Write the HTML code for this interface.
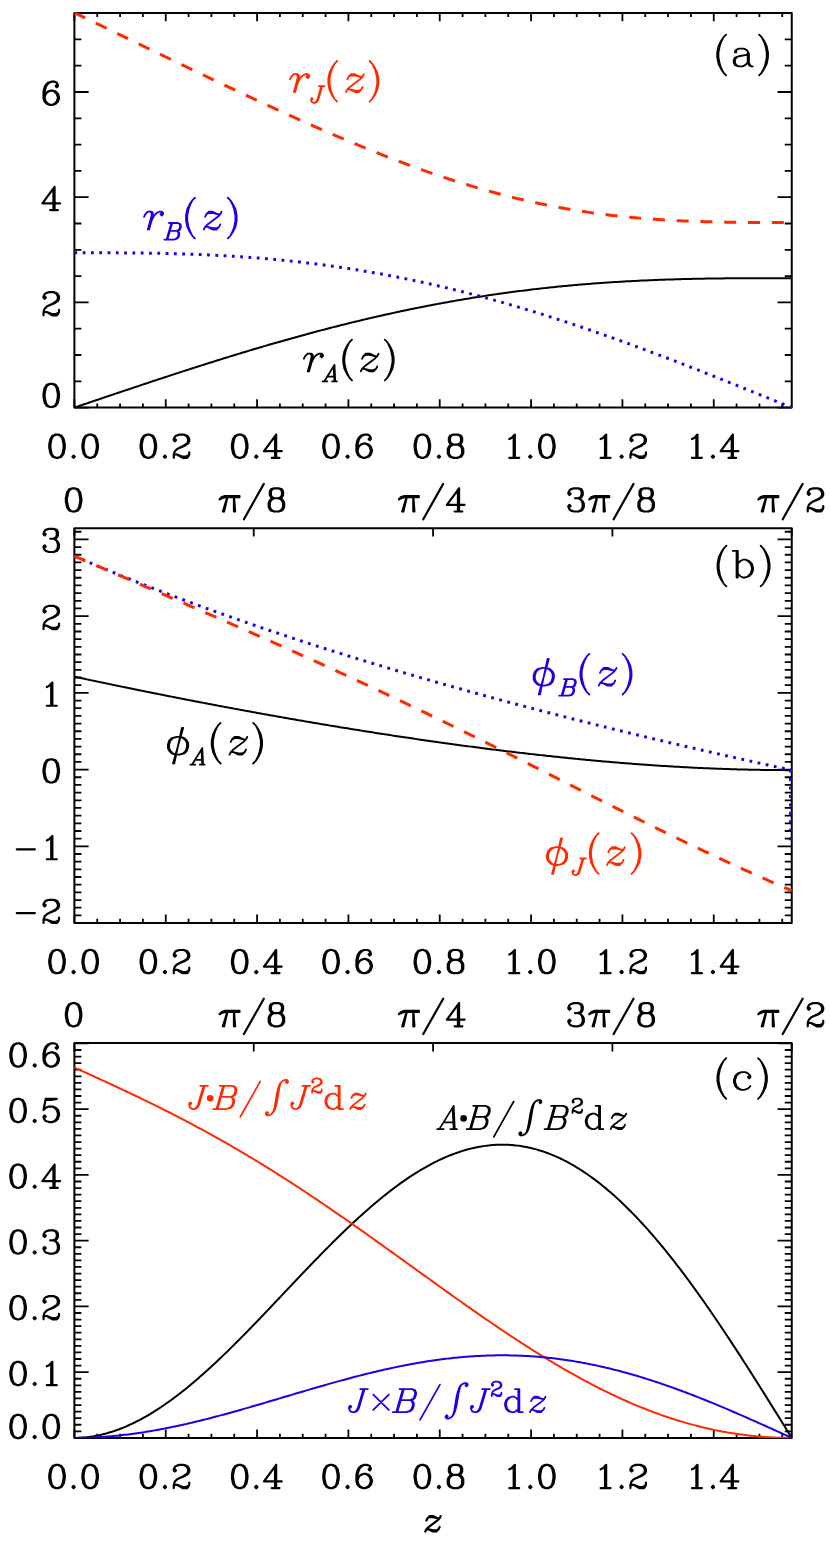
<!DOCTYPE html>
<html><head><meta charset="utf-8"><title>figure</title>
<style>html,body{margin:0;padding:0;background:#fff;font-family:"Liberation Sans",sans-serif}svg{display:block}</style></head>
<body><svg width="830" height="1545" viewBox="0 0 830 1545" fill="none" stroke-linecap="round" stroke-linejoin="round">
<rect x="0" y="0" width="830" height="1545" fill="#fff" stroke="none"/>
<defs><clipPath id="ca"><rect x="74.1" y="12.6" width="717.95" height="395.3"/></clipPath><clipPath id="cb"><rect x="74.1" y="527.9" width="717.95" height="395.4"/></clipPath><clipPath id="cc"><rect x="74.1" y="1042.7" width="717.95" height="395.5"/></clipPath></defs><path d="M74.4 407.6V399.2M74.4 12.9V21.3M97.23 407.6V403.4M97.23 12.9V17.1M120.07 407.6V403.4M120.07 12.9V17.1M142.9 407.6V403.4M142.9 12.9V17.1M165.74 407.6V399.2M165.74 12.9V21.3M188.57 407.6V403.4M188.57 12.9V17.1M211.4 407.6V403.4M211.4 12.9V17.1M234.24 407.6V403.4M234.24 12.9V17.1M257.07 407.6V399.2M257.07 12.9V21.3M279.91 407.6V403.4M279.91 12.9V17.1M302.74 407.6V403.4M302.74 12.9V17.1M325.57 407.6V403.4M325.57 12.9V17.1M348.41 407.6V399.2M348.41 12.9V21.3M371.24 407.6V403.4M371.24 12.9V17.1M394.08 407.6V403.4M394.08 12.9V17.1M416.91 407.6V403.4M416.91 12.9V17.1M439.74 407.6V399.2M439.74 12.9V21.3M462.58 407.6V403.4M462.58 12.9V17.1M485.41 407.6V403.4M485.41 12.9V17.1M508.25 407.6V403.4M508.25 12.9V17.1M531.08 407.6V399.2M531.08 12.9V21.3M553.91 407.6V403.4M553.91 12.9V17.1M576.75 407.6V403.4M576.75 12.9V17.1M599.58 407.6V403.4M599.58 12.9V17.1M622.42 407.6V399.2M622.42 12.9V21.3M645.25 407.6V403.4M645.25 12.9V17.1M668.08 407.6V403.4M668.08 12.9V17.1M690.92 407.6V403.4M690.92 12.9V17.1M713.75 407.6V399.2M713.75 12.9V21.3M736.58 407.6V403.4M736.58 12.9V17.1M759.42 407.6V403.4M759.42 12.9V17.1M782.25 407.6V403.4M782.25 12.9V17.1M74.4 407.6H88.6M791.75 407.6H777.55M74.4 381.3H81.4M791.75 381.3H784.75M74.4 355H81.4M791.75 355H784.75M74.4 328.7H81.4M791.75 328.7H784.75M74.4 302.4H88.6M791.75 302.4H777.55M74.4 276.1H81.4M791.75 276.1H784.75M74.4 249.8H81.4M791.75 249.8H784.75M74.4 223.5H81.4M791.75 223.5H784.75M74.4 197.2H88.6M791.75 197.2H777.55M74.4 170.9H81.4M791.75 170.9H784.75M74.4 144.6H81.4M791.75 144.6H784.75M74.4 118.3H81.4M791.75 118.3H784.75M74.4 92H88.6M791.75 92H777.55M74.4 65.7H81.4M791.75 65.7H784.75M74.4 39.4H81.4M791.75 39.4H784.75M74.4 13.1H81.4M791.75 13.1H784.75" stroke="#000" stroke-width="1.8" stroke-linecap="butt"/>
<rect x="74.4" y="12.9" width="717.35" height="394.7" stroke="#000" stroke-width="2"/>
<path d="M55.92 434.6L52.61 435.7L50.4 439.01L49.29 444.54L49.29 447.86L50.4 453.38L52.61 456.69L55.92 457.8L58.13 457.8L61.45 456.69L63.66 453.38L64.76 447.86L64.76 444.54L63.66 439.01L61.45 435.7L58.13 434.6L55.92 434.6M55.92 434.6L53.71 435.7L52.61 436.81L51.5 439.01L50.4 444.54L50.4 447.86L51.5 453.38L52.61 455.59L53.71 456.69L55.92 457.8M58.13 457.8L60.34 456.69L61.45 455.59L62.55 453.38L63.66 447.86L63.66 444.54L62.55 439.01L61.45 436.81L60.34 435.7L58.13 434.6M73.6 455.59L72.5 456.69L73.6 457.8L74.71 456.69L73.6 455.59M89.07 434.6L85.76 435.7L83.55 439.01L82.44 444.54L82.44 447.86L83.55 453.38L85.76 456.69L89.07 457.8L91.28 457.8L94.6 456.69L96.81 453.38L97.91 447.86L97.91 444.54L96.81 439.01L94.6 435.7L91.28 434.6L89.07 434.6M89.07 434.6L86.86 435.7L85.76 436.81L84.65 439.01L83.55 444.54L83.55 447.86L84.65 453.38L85.76 455.59L86.86 456.69L89.07 457.8M91.28 457.8L93.49 456.69L94.6 455.59L95.7 453.38L96.81 447.86L96.81 444.54L95.7 439.01L94.6 436.81L93.49 435.7L91.28 434.6" stroke="#000" stroke-width="2.2"/>
<path d="M147.26 434.6L143.94 435.7L141.73 439.01L140.63 444.54L140.63 447.86L141.73 453.38L143.94 456.69L147.26 457.8L149.47 457.8L152.78 456.69L154.99 453.38L156.1 447.86L156.1 444.54L154.99 439.01L152.78 435.7L149.47 434.6L147.26 434.6M147.26 434.6L145.05 435.7L143.94 436.81L142.84 439.01L141.73 444.54L141.73 447.86L142.84 453.38L143.94 455.59L145.05 456.69L147.26 457.8M149.47 457.8L151.68 456.69L152.78 455.59L153.89 453.38L154.99 447.86L154.99 444.54L153.89 439.01L152.78 436.81L151.68 435.7L149.47 434.6M164.94 455.59L163.83 456.69L164.94 457.8L166.04 456.69L164.94 455.59M174.88 439.01L175.99 440.12L174.88 441.23L173.78 440.12L173.78 439.01L174.88 436.81L175.99 435.7L179.3 434.6L183.72 434.6L187.04 435.7L188.14 436.81L189.25 439.01L189.25 441.23L188.14 443.44L184.83 445.65L179.3 447.86L177.09 448.96L174.88 451.17L173.78 454.49L173.78 457.8M183.72 434.6L185.93 435.7L187.04 436.81L188.14 439.01L188.14 441.23L187.04 443.44L183.72 445.65L179.3 447.86M173.78 455.59L174.88 454.49L177.09 454.49L182.62 456.69L185.93 456.69L188.14 455.59L189.25 454.49M177.09 454.49L182.62 457.8L187.04 457.8L188.14 456.69L189.25 454.49L189.25 452.28" stroke="#000" stroke-width="2.2"/>
<path d="M238.59 434.6L235.28 435.7L233.07 439.01L231.96 444.54L231.96 447.86L233.07 453.38L235.28 456.69L238.59 457.8L240.8 457.8L244.12 456.69L246.33 453.38L247.43 447.86L247.43 444.54L246.33 439.01L244.12 435.7L240.8 434.6L238.59 434.6M238.59 434.6L236.38 435.7L235.28 436.81L234.17 439.01L233.07 444.54L233.07 447.86L234.17 453.38L235.28 455.59L236.38 456.69L238.59 457.8M240.8 457.8L243.01 456.69L244.12 455.59L245.22 453.38L246.33 447.86L246.33 444.54L245.22 439.01L244.12 436.81L243.01 435.7L240.8 434.6M256.27 455.59L255.17 456.69L256.27 457.8L257.38 456.69L256.27 455.59M275.06 436.81L275.06 457.8M276.16 434.6L276.16 457.8M276.16 434.6L264.01 451.17L281.69 451.17M271.74 457.8L279.48 457.8" stroke="#000" stroke-width="2.2"/>
<path d="M329.93 434.6L326.61 435.7L324.4 439.01L323.3 444.54L323.3 447.86L324.4 453.38L326.61 456.69L329.93 457.8L332.14 457.8L335.45 456.69L337.66 453.38L338.77 447.86L338.77 444.54L337.66 439.01L335.45 435.7L332.14 434.6L329.93 434.6M329.93 434.6L327.72 435.7L326.61 436.81L325.51 439.01L324.4 444.54L324.4 447.86L325.51 453.38L326.61 455.59L327.72 456.69L329.93 457.8M332.14 457.8L334.35 456.69L335.45 455.59L336.56 453.38L337.66 447.86L337.66 444.54L336.56 439.01L335.45 436.81L334.35 435.7L332.14 434.6M347.61 455.59L346.5 456.69L347.61 457.8L348.71 456.69L347.61 455.59M369.71 437.91L368.6 439.01L369.71 440.12L370.81 439.01L370.81 437.91L369.71 435.7L367.5 434.6L364.18 434.6L360.87 435.7L358.66 437.91L357.55 440.12L356.45 444.54L356.45 451.17L357.55 454.49L359.76 456.69L363.08 457.8L365.29 457.8L368.6 456.69L370.81 454.49L371.92 451.17L371.92 450.06L370.81 446.75L368.6 444.54L365.29 443.44L364.18 443.44L360.87 444.54L358.66 446.75L357.55 450.06M364.18 434.6L361.97 435.7L359.76 437.91L358.66 440.12L357.55 444.54L357.55 451.17L358.66 454.49L360.87 456.69L363.08 457.8M365.29 457.8L367.5 456.69L369.71 454.49L370.81 451.17L370.81 450.06L369.71 446.75L367.5 444.54L365.29 443.44" stroke="#000" stroke-width="2.2"/>
<path d="M421.26 434.6L417.95 435.7L415.74 439.01L414.63 444.54L414.63 447.86L415.74 453.38L417.95 456.69L421.26 457.8L423.47 457.8L426.79 456.69L429 453.38L430.1 447.86L430.1 444.54L429 439.01L426.79 435.7L423.47 434.6L421.26 434.6M421.26 434.6L419.05 435.7L417.95 436.81L416.84 439.01L415.74 444.54L415.74 447.86L416.84 453.38L417.95 455.59L419.05 456.69L421.26 457.8M423.47 457.8L425.68 456.69L426.79 455.59L427.89 453.38L429 447.86L429 444.54L427.89 439.01L426.79 436.81L425.68 435.7L423.47 434.6M438.94 455.59L437.84 456.69L438.94 457.8L440.05 456.69L438.94 455.59M453.31 434.6L449.99 435.7L448.89 437.91L448.89 441.23L449.99 443.44L453.31 444.54L457.73 444.54L461.04 443.44L462.15 441.23L462.15 437.91L461.04 435.7L457.73 434.6L453.31 434.6M453.31 434.6L451.1 435.7L449.99 437.91L449.99 441.23L451.1 443.44L453.31 444.54M457.73 444.54L459.94 443.44L461.04 441.23L461.04 437.91L459.94 435.7L457.73 434.6M453.31 444.54L449.99 445.65L448.89 446.75L447.78 448.96L447.78 453.38L448.89 455.59L449.99 456.69L453.31 457.8L457.73 457.8L461.04 456.69L462.15 455.59L463.25 453.38L463.25 448.96L462.15 446.75L461.04 445.65L457.73 444.54M453.31 444.54L451.1 445.65L449.99 446.75L448.89 448.96L448.89 453.38L449.99 455.59L451.1 456.69L453.31 457.8M457.73 457.8L459.94 456.69L461.04 455.59L462.15 453.38L462.15 448.96L461.04 446.75L459.94 445.65L457.73 444.54" stroke="#000" stroke-width="2.2"/>
<path d="M509.28 439.01L511.49 437.91L514.81 434.6L514.81 457.8M513.7 435.7L513.7 457.8M509.28 457.8L519.23 457.8M530.28 455.59L529.17 456.69L530.28 457.8L531.38 456.69L530.28 455.59M545.75 434.6L542.43 435.7L540.22 439.01L539.12 444.54L539.12 447.86L540.22 453.38L542.43 456.69L545.75 457.8L547.96 457.8L551.27 456.69L553.48 453.38L554.59 447.86L554.59 444.54L553.48 439.01L551.27 435.7L547.96 434.6L545.75 434.6M545.75 434.6L543.54 435.7L542.43 436.81L541.33 439.01L540.22 444.54L540.22 447.86L541.33 453.38L542.43 455.59L543.54 456.69L545.75 457.8M547.96 457.8L550.17 456.69L551.27 455.59L552.38 453.38L553.48 447.86L553.48 444.54L552.38 439.01L551.27 436.81L550.17 435.7L547.96 434.6" stroke="#000" stroke-width="2.2"/>
<path d="M600.62 439.01L602.83 437.91L606.15 434.6L606.15 457.8M605.04 435.7L605.04 457.8M600.62 457.8L610.57 457.8M621.62 455.59L620.51 456.69L621.62 457.8L622.72 456.69L621.62 455.59M631.56 439.01L632.67 440.12L631.56 441.23L630.46 440.12L630.46 439.01L631.56 436.81L632.67 435.7L635.98 434.6L640.4 434.6L643.72 435.7L644.82 436.81L645.93 439.01L645.93 441.23L644.82 443.44L641.51 445.65L635.98 447.86L633.77 448.96L631.56 451.17L630.46 454.49L630.46 457.8M640.4 434.6L642.61 435.7L643.72 436.81L644.82 439.01L644.82 441.23L643.72 443.44L640.4 445.65L635.98 447.86M630.46 455.59L631.56 454.49L633.77 454.49L639.3 456.69L642.61 456.69L644.82 455.59L645.93 454.49M633.77 454.49L639.3 457.8L643.72 457.8L644.82 456.69L645.93 454.49L645.93 452.28" stroke="#000" stroke-width="2.2"/>
<path d="M691.96 439.01L694.17 437.91L697.48 434.6L697.48 457.8M696.38 435.7L696.38 457.8M691.96 457.8L701.9 457.8M712.95 455.59L711.85 456.69L712.95 457.8L714.06 456.69L712.95 455.59M731.74 436.81L731.74 457.8M732.84 434.6L732.84 457.8M732.84 434.6L720.69 451.17L738.37 451.17M728.42 457.8L736.16 457.8" stroke="#000" stroke-width="2.2"/>
<path d="M56.77 85.01L55.67 86.12L56.77 87.22L57.88 86.12L57.88 85.01L56.77 82.8L54.56 81.7L51.25 81.7L47.94 82.8L45.73 85.01L44.62 87.22L43.52 91.64L43.52 98.27L44.62 101.59L46.83 103.8L50.15 104.9L52.35 104.9L55.67 103.8L57.88 101.59L58.98 98.27L58.98 97.17L57.88 93.85L55.67 91.64L52.35 90.54L51.25 90.54L47.94 91.64L45.73 93.85L44.62 97.17M51.25 81.7L49.04 82.8L46.83 85.01L45.73 87.22L44.62 91.64L44.62 98.27L45.73 101.59L47.94 103.8L50.15 104.9M52.35 104.9L54.56 103.8L56.77 101.59L57.88 98.27L57.88 97.17L56.77 93.85L54.56 91.64L52.35 90.54" stroke="#000" stroke-width="2.2"/>
<path d="M53.46 189.11L53.46 210.1M54.56 186.9L54.56 210.1M54.56 186.9L42.41 203.47L60.09 203.47M50.15 210.1L57.88 210.1" stroke="#000" stroke-width="2.2"/>
<path d="M44.62 296.51L45.73 297.62L44.62 298.73L43.52 297.62L43.52 296.51L44.62 294.31L45.73 293.2L49.04 292.1L53.46 292.1L56.77 293.2L57.88 294.31L58.98 296.51L58.98 298.73L57.88 300.94L54.56 303.15L49.04 305.36L46.83 306.46L44.62 308.67L43.52 311.99L43.52 315.3M53.46 292.1L55.67 293.2L56.77 294.31L57.88 296.51L57.88 298.73L56.77 300.94L53.46 303.15L49.04 305.36M43.52 313.09L44.62 311.99L46.83 311.99L52.35 314.19L55.67 314.19L57.88 313.09L58.98 311.99M46.83 311.99L52.35 315.3L56.77 315.3L57.88 314.19L58.98 311.99L58.98 309.78" stroke="#000" stroke-width="2.2"/>
<path d="M50.15 383.8L46.83 384.9L44.62 388.21L43.52 393.74L43.52 397.06L44.62 402.58L46.83 405.89L50.15 407L52.35 407L55.67 405.89L57.88 402.58L58.98 397.06L58.98 393.74L57.88 388.21L55.67 384.9L52.35 383.8L50.15 383.8M50.15 383.8L47.94 384.9L46.83 386L45.73 388.21L44.62 393.74L44.62 397.06L45.73 402.58L46.83 404.79L47.94 405.89L50.15 407M52.35 407L54.56 405.89L55.67 404.79L56.77 402.58L57.88 397.06L57.88 393.74L56.77 388.21L55.67 386L54.56 384.9L52.35 383.8" stroke="#000" stroke-width="2.2"/>
<path clip-path="url(#ca)" d="M74.4 407.6L76.19 406.99L77.99 406.38L79.78 405.78L81.57 405.17L83.37 404.56L85.16 403.95L86.95 403.35L88.75 402.74L90.54 402.13L92.33 401.52L94.13 400.92L95.92 400.31L97.71 399.7L99.51 399.1L101.3 398.49L103.09 397.88L104.89 397.28L106.68 396.67L108.47 396.07L110.27 395.46L112.06 394.86L113.85 394.25L115.65 393.65L117.44 393.04L119.23 392.44L121.03 391.84L122.82 391.24L124.61 390.63L126.41 390.03L128.2 389.43L129.99 388.83L131.79 388.23L133.58 387.63L135.37 387.03L137.17 386.43L138.96 385.83L140.75 385.23L142.55 384.64L144.34 384.04L146.13 383.44L147.93 382.85L149.72 382.25L151.52 381.66L153.31 381.07L155.1 380.47L156.9 379.88L158.69 379.29L160.48 378.7L162.28 378.11L164.07 377.52L165.86 376.93L167.66 376.34L169.45 375.76L171.24 375.17L173.04 374.58L174.83 374L176.62 373.42L178.42 372.83L180.21 372.25L182 371.67L183.8 371.09L185.59 370.51L187.38 369.93L189.18 369.35L190.97 368.78L192.76 368.2L194.56 367.63L196.35 367.05L198.14 366.48L199.94 365.91L201.73 365.34L203.52 364.77L205.32 364.2L207.11 363.63L208.9 363.07L210.7 362.5L212.49 361.94L214.28 361.37L216.08 360.81L217.87 360.25L219.66 359.69L221.46 359.13L223.25 358.58L225.04 358.02L226.84 357.47L228.63 356.91L230.42 356.36L232.22 355.81L234.01 355.26L235.8 354.71L237.6 354.16L239.39 353.62L241.18 353.07L242.98 352.53L244.77 351.99L246.56 351.45L248.36 350.91L250.15 350.37L251.94 349.83L253.74 349.3L255.53 348.77L257.32 348.23L259.12 347.7L260.91 347.18L262.7 346.65L264.5 346.12L266.29 345.6L268.08 345.07L269.88 344.55L271.67 344.03L273.46 343.51L275.26 343L277.05 342.48L278.84 341.97L280.64 341.46L282.43 340.95L284.22 340.44L286.02 339.93L287.81 339.42L289.61 338.92L291.4 338.42L293.19 337.92L294.99 337.42L296.78 336.92L298.57 336.43L300.37 335.93L302.16 335.44L303.95 334.95L305.75 334.46L307.54 333.97L309.33 333.49L311.13 333.01L312.92 332.52L314.71 332.04L316.51 331.57L318.3 331.09L320.09 330.62L321.89 330.14L323.68 329.67L325.47 329.2L327.27 328.74L329.06 328.27L330.85 327.81L332.65 327.35L334.44 326.89L336.23 326.43L338.03 325.98L339.82 325.52L341.61 325.07L343.41 324.62L345.2 324.17L346.99 323.73L348.79 323.29L350.58 322.84L352.37 322.4L354.17 321.97L355.96 321.53L357.75 321.1L359.55 320.67L361.34 320.24L363.13 319.81L364.93 319.38L366.72 318.96L368.51 318.54L370.31 318.12L372.1 317.7L373.89 317.29L375.69 316.87L377.48 316.46L379.27 316.06L381.07 315.65L382.86 315.24L384.65 314.84L386.45 314.44L388.24 314.04L390.03 313.65L391.83 313.25L393.62 312.86L395.41 312.47L397.21 312.09L399 311.7L400.79 311.32L402.59 310.94L404.38 310.56L406.17 310.18L407.97 309.81L409.76 309.44L411.55 309.07L413.35 308.7L415.14 308.34L416.93 307.97L418.73 307.61L420.52 307.25L422.31 306.9L424.11 306.54L425.9 306.19L427.69 305.84L429.49 305.5L431.28 305.15L433.08 304.81L434.87 304.47L436.66 304.13L438.46 303.8L440.25 303.46L442.04 303.13L443.84 302.8L445.63 302.48L447.42 302.15L449.22 301.83L451.01 301.51L452.8 301.19L454.6 300.88L456.39 300.57L458.18 300.26L459.98 299.95L461.77 299.64L463.56 299.34L465.36 299.04L467.15 298.74L468.94 298.44L470.74 298.15L472.53 297.86L474.32 297.57L476.12 297.28L477.91 297L479.7 296.72L481.5 296.44L483.29 296.16L485.08 295.88L486.88 295.61L488.67 295.34L490.46 295.07L492.26 294.81L494.05 294.54L495.84 294.28L497.64 294.02L499.43 293.77L501.22 293.51L503.02 293.26L504.81 293.01L506.6 292.77L508.4 292.52L510.19 292.28L511.98 292.04L513.78 291.8L515.57 291.57L517.36 291.33L519.16 291.1L520.95 290.88L522.74 290.65L524.54 290.43L526.33 290.2L528.12 289.99L529.92 289.77L531.71 289.55L533.5 289.34L535.3 289.13L537.09 288.93L538.88 288.72L540.68 288.52L542.47 288.32L544.26 288.12L546.06 287.92L547.85 287.73L549.64 287.54L551.44 287.35L553.23 287.16L555.02 286.98L556.82 286.79L558.61 286.61L560.4 286.44L562.2 286.26L563.99 286.09L565.78 285.92L567.58 285.75L569.37 285.58L571.16 285.42L572.96 285.25L574.75 285.09L576.54 284.93L578.34 284.78L580.13 284.62L581.93 284.47L583.72 284.32L585.51 284.18L587.31 284.03L589.1 283.89L590.89 283.75L592.69 283.61L594.48 283.47L596.27 283.34L598.07 283.21L599.86 283.07L601.65 282.95L603.45 282.82L605.24 282.7L607.03 282.57L608.83 282.45L610.62 282.34L612.41 282.22L614.21 282.1L616 281.99L617.79 281.88L619.59 281.77L621.38 281.67L623.17 281.56L624.97 281.46L626.76 281.36L628.55 281.26L630.35 281.17L632.14 281.07L633.93 280.98L635.73 280.89L637.52 280.8L639.31 280.71L641.11 280.62L642.9 280.54L644.69 280.46L646.49 280.38L648.28 280.3L650.07 280.22L651.87 280.15L653.66 280.07L655.45 280L657.25 279.93L659.04 279.86L660.83 279.8L662.63 279.73L664.42 279.67L666.21 279.61L668.01 279.55L669.8 279.49L671.59 279.43L673.39 279.38L675.18 279.32L676.97 279.27L678.77 279.22L680.56 279.17L682.35 279.12L684.15 279.08L685.94 279.03L687.73 278.99L689.53 278.94L691.32 278.9L693.11 278.86L694.91 278.83L696.7 278.79L698.49 278.75L700.29 278.72L702.08 278.69L703.87 278.65L705.67 278.62L707.46 278.59L709.25 278.57L711.05 278.54L712.84 278.51L714.63 278.49L716.43 278.46L718.22 278.44L720.02 278.42L721.81 278.4L723.6 278.38L725.4 278.36L727.19 278.34L728.98 278.32L730.78 278.31L732.57 278.29L734.36 278.28L736.16 278.27L737.95 278.25L739.74 278.24L741.54 278.23L743.33 278.22L745.12 278.21L746.92 278.2L748.71 278.19L750.5 278.19L752.3 278.18L754.09 278.17L755.88 278.17L757.68 278.16L759.47 278.16L761.26 278.15L763.06 278.15L764.85 278.14L766.64 278.14L768.44 278.14L770.23 278.14L772.02 278.14L773.82 278.13L775.61 278.13L777.4 278.13L779.2 278.13L780.99 278.13L782.78 278.13L784.58 278.13L786.37 278.13L788.16 278.13L789.96 278.13L791.75 278.13" stroke="#000" stroke-width="2" stroke-linecap="butt"/>
<path clip-path="url(#ca)" d="M74.4 252.79L76.19 252.79L77.99 252.79L79.78 252.79L81.57 252.79L83.37 252.79L85.16 252.79L86.95 252.79L88.75 252.79L90.54 252.8L92.33 252.8L94.13 252.8L95.92 252.8L97.71 252.8L99.51 252.81L101.3 252.81L103.09 252.81L104.89 252.82L106.68 252.82L108.47 252.83L110.27 252.84L112.06 252.84L113.85 252.85L115.65 252.86L117.44 252.87L119.23 252.88L121.03 252.89L122.82 252.9L124.61 252.91L126.41 252.93L128.2 252.94L129.99 252.95L131.79 252.97L133.58 252.99L135.37 253.01L137.17 253.03L138.96 253.05L140.75 253.07L142.55 253.09L144.34 253.11L146.13 253.14L147.93 253.16L149.72 253.19L151.52 253.22L153.31 253.25L155.1 253.28L156.9 253.31L158.69 253.35L160.48 253.38L162.28 253.42L164.07 253.46L165.86 253.5L167.66 253.54L169.45 253.58L171.24 253.63L173.04 253.67L174.83 253.72L176.62 253.77L178.42 253.82L180.21 253.87L182 253.92L183.8 253.98L185.59 254.04L187.38 254.1L189.18 254.16L190.97 254.22L192.76 254.28L194.56 254.35L196.35 254.42L198.14 254.49L199.94 254.56L201.73 254.63L203.52 254.71L205.32 254.79L207.11 254.87L208.9 254.95L210.7 255.03L212.49 255.12L214.28 255.21L216.08 255.3L217.87 255.39L219.66 255.48L221.46 255.58L223.25 255.68L225.04 255.78L226.84 255.88L228.63 255.98L230.42 256.09L232.22 256.2L234.01 256.31L235.8 256.42L237.6 256.54L239.39 256.66L241.18 256.78L242.98 256.9L244.77 257.02L246.56 257.15L248.36 257.28L250.15 257.41L251.94 257.55L253.74 257.68L255.53 257.82L257.32 257.96L259.12 258.11L260.91 258.25L262.7 258.4L264.5 258.55L266.29 258.71L268.08 258.86L269.88 259.02L271.67 259.18L273.46 259.34L275.26 259.51L277.05 259.68L278.84 259.85L280.64 260.02L282.43 260.2L284.22 260.38L286.02 260.56L287.81 260.74L289.61 260.93L291.4 261.12L293.19 261.31L294.99 261.5L296.78 261.7L298.57 261.9L300.37 262.1L302.16 262.31L303.95 262.51L305.75 262.72L307.54 262.94L309.33 263.15L311.13 263.37L312.92 263.59L314.71 263.82L316.51 264.04L318.3 264.27L320.09 264.5L321.89 264.74L323.68 264.97L325.47 265.21L327.27 265.46L329.06 265.7L330.85 265.95L332.65 266.2L334.44 266.45L336.23 266.71L338.03 266.97L339.82 267.23L341.61 267.5L343.41 267.76L345.2 268.03L346.99 268.31L348.79 268.58L350.58 268.86L352.37 269.14L354.17 269.43L355.96 269.71L357.75 270L359.55 270.29L361.34 270.59L363.13 270.89L364.93 271.19L366.72 271.49L368.51 271.8L370.31 272.11L372.1 272.42L373.89 272.73L375.69 273.05L377.48 273.37L379.27 273.7L381.07 274.02L382.86 274.35L384.65 274.68L386.45 275.02L388.24 275.35L390.03 275.69L391.83 276.04L393.62 276.38L395.41 276.73L397.21 277.08L399 277.44L400.79 277.79L402.59 278.15L404.38 278.52L406.17 278.88L407.97 279.25L409.76 279.62L411.55 279.99L413.35 280.37L415.14 280.75L416.93 281.13L418.73 281.52L420.52 281.9L422.31 282.29L424.11 282.69L425.9 283.08L427.69 283.48L429.49 283.88L431.28 284.29L433.08 284.69L434.87 285.1L436.66 285.51L438.46 285.93L440.25 286.35L442.04 286.77L443.84 287.19L445.63 287.62L447.42 288.04L449.22 288.48L451.01 288.91L452.8 289.35L454.6 289.79L456.39 290.23L458.18 290.67L459.98 291.12L461.77 291.57L463.56 292.02L465.36 292.48L467.15 292.93L468.94 293.39L470.74 293.86L472.53 294.32L474.32 294.79L476.12 295.26L477.91 295.73L479.7 296.21L481.5 296.69L483.29 297.17L485.08 297.65L486.88 298.14L488.67 298.63L490.46 299.12L492.26 299.61L494.05 300.11L495.84 300.61L497.64 301.11L499.43 301.61L501.22 302.12L503.02 302.63L504.81 303.14L506.6 303.65L508.4 304.17L510.19 304.69L511.98 305.21L513.78 305.73L515.57 306.26L517.36 306.79L519.16 307.32L520.95 307.85L522.74 308.38L524.54 308.92L526.33 309.46L528.12 310L529.92 310.55L531.71 311.09L533.5 311.64L535.3 312.19L537.09 312.75L538.88 313.3L540.68 313.86L542.47 314.42L544.26 314.99L546.06 315.55L547.85 316.12L549.64 316.69L551.44 317.26L553.23 317.83L555.02 318.41L556.82 318.99L558.61 319.57L560.4 320.15L562.2 320.73L563.99 321.32L565.78 321.91L567.58 322.5L569.37 323.09L571.16 323.68L572.96 324.28L574.75 324.88L576.54 325.48L578.34 326.08L580.13 326.69L581.93 327.29L583.72 327.9L585.51 328.51L587.31 329.12L589.1 329.74L590.89 330.35L592.69 330.97L594.48 331.59L596.27 332.21L598.07 332.84L599.86 333.46L601.65 334.09L603.45 334.72L605.24 335.35L607.03 335.98L608.83 336.62L610.62 337.25L612.41 337.89L614.21 338.53L616 339.17L617.79 339.81L619.59 340.46L621.38 341.11L623.17 341.75L624.97 342.4L626.76 343.05L628.55 343.71L630.35 344.36L632.14 345.02L633.93 345.67L635.73 346.33L637.52 346.99L639.31 347.65L641.11 348.32L642.9 348.98L644.69 349.65L646.49 350.32L648.28 350.98L650.07 351.66L651.87 352.33L653.66 353L655.45 353.67L657.25 354.35L659.04 355.03L660.83 355.71L662.63 356.39L664.42 357.07L666.21 357.75L668.01 358.43L669.8 359.12L671.59 359.8L673.39 360.49L675.18 361.18L676.97 361.87L678.77 362.56L680.56 363.25L682.35 363.94L684.15 364.64L685.94 365.33L687.73 366.03L689.53 366.73L691.32 367.42L693.11 368.12L694.91 368.82L696.7 369.52L698.49 370.23L700.29 370.93L702.08 371.63L703.87 372.34L705.67 373.04L707.46 373.75L709.25 374.46L711.05 375.17L712.84 375.87L714.63 376.58L716.43 377.29L718.22 378.01L720.02 378.72L721.81 379.43L723.6 380.14L725.4 380.86L727.19 381.57L728.98 382.29L730.78 383L732.57 383.72L734.36 384.44L736.16 385.16L737.95 385.87L739.74 386.59L741.54 387.31L743.33 388.03L745.12 388.75L746.92 389.47L748.71 390.2L750.5 390.92L752.3 391.64L754.09 392.36L755.88 393.09L757.68 393.81L759.47 394.53L761.26 395.26L763.06 395.98L764.85 396.71L766.64 397.43L768.44 398.16L770.23 398.88L772.02 399.61L773.82 400.33L775.61 401.06L777.4 401.79L779.2 402.51L780.99 403.24L782.78 403.97L784.58 404.69L786.37 405.42L788.16 406.15L789.96 406.87L791.75 407.6" stroke="#1c00e2" stroke-width="3" stroke-linecap="butt" stroke-dasharray="2.8 5.494"/>
<path clip-path="url(#ca)" d="M74.4 12.74L76.19 13.61L77.99 14.48L79.78 15.35L81.57 16.21L83.37 17.08L85.16 17.95L86.95 18.82L88.75 19.69L90.54 20.56L92.33 21.43L94.13 22.3L95.92 23.17L97.71 24.04L99.51 24.91L101.3 25.77L103.09 26.64L104.89 27.51L106.68 28.38L108.47 29.25L110.27 30.12L112.06 30.99L113.85 31.86L115.65 32.73L117.44 33.59L119.23 34.46L121.03 35.33L122.82 36.2L124.61 37.07L126.41 37.94L128.2 38.81L129.99 39.67L131.79 40.54L133.58 41.41L135.37 42.28L137.17 43.15L138.96 44.01L140.75 44.88L142.55 45.75L144.34 46.62L146.13 47.48L147.93 48.35L149.72 49.22L151.52 50.08L153.31 50.95L155.1 51.82L156.9 52.68L158.69 53.55L160.48 54.41L162.28 55.28L164.07 56.14L165.86 57.01L167.66 57.87L169.45 58.74L171.24 59.6L173.04 60.47L174.83 61.33L176.62 62.19L178.42 63.06L180.21 63.92L182 64.78L183.8 65.64L185.59 66.5L187.38 67.37L189.18 68.23L190.97 69.09L192.76 69.95L194.56 70.81L196.35 71.67L198.14 72.52L199.94 73.38L201.73 74.24L203.52 75.1L205.32 75.95L207.11 76.81L208.9 77.67L210.7 78.52L212.49 79.38L214.28 80.23L216.08 81.08L217.87 81.93L219.66 82.79L221.46 83.64L223.25 84.49L225.04 85.34L226.84 86.19L228.63 87.04L230.42 87.88L232.22 88.73L234.01 89.58L235.8 90.42L237.6 91.27L239.39 92.11L241.18 92.96L242.98 93.8L244.77 94.64L246.56 95.48L248.36 96.32L250.15 97.16L251.94 98L253.74 98.83L255.53 99.67L257.32 100.5L259.12 101.34L260.91 102.17L262.7 103L264.5 103.83L266.29 104.66L268.08 105.49L269.88 106.32L271.67 107.14L273.46 107.97L275.26 108.79L277.05 109.61L278.84 110.43L280.64 111.25L282.43 112.07L284.22 112.89L286.02 113.71L287.81 114.52L289.61 115.33L291.4 116.14L293.19 116.95L294.99 117.76L296.78 118.57L298.57 119.38L300.37 120.18L302.16 120.98L303.95 121.78L305.75 122.58L307.54 123.38L309.33 124.18L311.13 124.97L312.92 125.77L314.71 126.56L316.51 127.35L318.3 128.13L320.09 128.92L321.89 129.7L323.68 130.49L325.47 131.27L327.27 132.05L329.06 132.82L330.85 133.6L332.65 134.37L334.44 135.14L336.23 135.91L338.03 136.68L339.82 137.44L341.61 138.2L343.41 138.96L345.2 139.72L346.99 140.48L348.79 141.23L350.58 141.98L352.37 142.73L354.17 143.48L355.96 144.22L357.75 144.96L359.55 145.7L361.34 146.44L363.13 147.18L364.93 147.91L366.72 148.64L368.51 149.37L370.31 150.09L372.1 150.82L373.89 151.54L375.69 152.25L377.48 152.97L379.27 153.68L381.07 154.39L382.86 155.1L384.65 155.8L386.45 156.5L388.24 157.2L390.03 157.9L391.83 158.59L393.62 159.28L395.41 159.97L397.21 160.65L399 161.33L400.79 162.01L402.59 162.68L404.38 163.36L406.17 164.02L407.97 164.69L409.76 165.35L411.55 166.01L413.35 166.67L415.14 167.32L416.93 167.97L418.73 168.62L420.52 169.26L422.31 169.9L424.11 170.54L425.9 171.17L427.69 171.8L429.49 172.43L431.28 173.05L433.08 173.67L434.87 174.29L436.66 174.9L438.46 175.51L440.25 176.12L442.04 176.72L443.84 177.32L445.63 177.92L447.42 178.51L449.22 179.1L451.01 179.68L452.8 180.26L454.6 180.84L456.39 181.41L458.18 181.98L459.98 182.54L461.77 183.11L463.56 183.66L465.36 184.22L467.15 184.77L468.94 185.31L470.74 185.86L472.53 186.39L474.32 186.93L476.12 187.46L477.91 187.99L479.7 188.51L481.5 189.03L483.29 189.54L485.08 190.05L486.88 190.56L488.67 191.06L490.46 191.56L492.26 192.05L494.05 192.54L495.84 193.03L497.64 193.51L499.43 193.99L501.22 194.46L503.02 194.93L504.81 195.39L506.6 195.85L508.4 196.31L510.19 196.76L511.98 197.21L513.78 197.65L515.57 198.09L517.36 198.53L519.16 198.96L520.95 199.38L522.74 199.8L524.54 200.22L526.33 200.64L528.12 201.04L529.92 201.45L531.71 201.85L533.5 202.25L535.3 202.64L537.09 203.02L538.88 203.41L540.68 203.79L542.47 204.16L544.26 204.53L546.06 204.9L547.85 205.26L549.64 205.61L551.44 205.97L553.23 206.31L555.02 206.66L556.82 207L558.61 207.33L560.4 207.66L562.2 207.99L563.99 208.31L565.78 208.63L567.58 208.95L569.37 209.25L571.16 209.56L572.96 209.86L574.75 210.16L576.54 210.45L578.34 210.74L580.13 211.02L581.93 211.3L583.72 211.58L585.51 211.85L587.31 212.11L589.1 212.38L590.89 212.64L592.69 212.89L594.48 213.14L596.27 213.39L598.07 213.63L599.86 213.87L601.65 214.1L603.45 214.33L605.24 214.56L607.03 214.78L608.83 215L610.62 215.21L612.41 215.43L614.21 215.63L616 215.83L617.79 216.03L619.59 216.23L621.38 216.42L623.17 216.61L624.97 216.79L626.76 216.97L628.55 217.15L630.35 217.32L632.14 217.49L633.93 217.65L635.73 217.82L637.52 217.98L639.31 218.13L641.11 218.28L642.9 218.43L644.69 218.57L646.49 218.72L648.28 218.85L650.07 218.99L651.87 219.12L653.66 219.25L655.45 219.37L657.25 219.49L659.04 219.61L660.83 219.73L662.63 219.84L664.42 219.95L666.21 220.05L668.01 220.16L669.8 220.26L671.59 220.36L673.39 220.45L675.18 220.54L676.97 220.63L678.77 220.72L680.56 220.8L682.35 220.88L684.15 220.96L685.94 221.04L687.73 221.11L689.53 221.18L691.32 221.25L693.11 221.32L694.91 221.38L696.7 221.44L698.49 221.5L700.29 221.56L702.08 221.61L703.87 221.66L705.67 221.71L707.46 221.76L709.25 221.81L711.05 221.85L712.84 221.89L714.63 221.93L716.43 221.97L718.22 222.01L720.02 222.04L721.81 222.08L723.6 222.11L725.4 222.14L727.19 222.17L728.98 222.19L730.78 222.22L732.57 222.24L734.36 222.27L736.16 222.29L737.95 222.31L739.74 222.33L741.54 222.34L743.33 222.36L745.12 222.37L746.92 222.39L748.71 222.4L750.5 222.41L752.3 222.42L754.09 222.43L755.88 222.44L757.68 222.45L759.47 222.46L761.26 222.46L763.06 222.47L764.85 222.47L766.64 222.48L768.44 222.48L770.23 222.48L772.02 222.49L773.82 222.49L775.61 222.49L777.4 222.49L779.2 222.49L780.99 222.49L782.78 222.5L784.58 222.5L786.37 222.5L788.16 222.5L789.96 222.5L791.75 222.5" stroke="#ff2a00" stroke-width="3" stroke-linecap="butt" stroke-dasharray="12 11.79"/>
<path d="M290 79.3L291.27 76.76L293.81 74.22L297.62 74.22L298.89 75.49L298.89 78.03L297.62 83.11L295.08 92M296.35 74.22L297.62 75.49L297.62 78.03L296.35 83.11L293.81 92M297.62 83.11L300.16 78.03L302.7 75.49L305.24 74.22L307.78 74.22L309.05 75.49L309.05 76.76L307.78 78.03L306.51 76.76L307.78 75.49M322.13 86.26L318.19 99.65L317.41 101.22L316.62 102.01L315.04 102.8L313.47 102.8L311.89 102.01L311.11 100.43L311.11 98.86L311.89 98.07L312.68 98.86L311.89 99.65M321.34 86.26L317.41 99.65L316.62 101.22L315.04 102.8M318.98 86.26L324.49 86.26M337.19 61.01L334.65 63.55L332.11 67.36L329.57 72.44L328.3 78.79L328.3 83.87L329.57 90.22L332.11 95.3L334.65 99.11L337.19 101.65M334.65 63.55L332.11 68.63L330.84 72.44L329.57 78.79L329.57 83.87L330.84 90.22L332.11 94.03L334.65 99.11M363.86 74.22L362.59 76.76L360.05 79.3L349.89 86.92L347.35 89.46L346.08 92M347.35 79.3L348.62 76.76L351.16 74.22L354.97 74.22L360.05 76.76M348.62 76.76L351.16 75.49L354.97 75.49L360.05 76.76L362.59 76.76M347.35 89.46L349.89 89.46L354.97 90.73L358.78 90.73L361.32 89.46M349.89 89.46L354.97 92L358.78 92L361.32 89.46L362.59 86.92M369.58 61.01L372.12 63.55L374.66 67.36L377.2 72.44L378.47 78.79L378.47 83.87L377.2 90.22L374.66 95.3L372.12 99.11L369.58 101.65M372.12 63.55L374.66 68.63L375.93 72.44L377.2 78.79L377.2 83.87L375.93 90.22L374.66 94.03L372.12 99.11" stroke="#ff2a00" stroke-width="1.8"/>
<path d="M144 216.8L145.27 214.26L147.81 211.72L151.62 211.72L152.89 212.99L152.89 215.53L151.62 220.61L149.08 229.5M150.35 211.72L151.62 212.99L151.62 215.53L150.35 220.61L147.81 229.5M151.62 220.61L154.16 215.53L156.7 212.99L159.24 211.72L161.78 211.72L163.05 212.99L163.05 214.26L161.78 215.53L160.51 214.26L161.78 212.99M171.41 223L166.68 239.53M172.19 223L167.47 239.53M169.04 223L177.71 223L180.07 223.79L180.86 225.36L180.86 226.93L180.07 229.3L179.28 230.08L176.92 230.87M177.71 223L179.28 223.79L180.07 225.36L180.07 226.93L179.28 229.3L178.49 230.08L176.92 230.87M169.83 230.87L176.92 230.87L178.49 231.66L179.28 233.23L179.28 234.81L178.49 237.17L176.92 238.75L173.77 239.53L164.32 239.53M176.92 230.87L177.71 231.66L178.49 233.23L178.49 234.81L177.71 237.17L176.13 238.75L173.77 239.53M194.9 197.75L192.36 200.29L189.82 204.1L187.28 209.18L186.01 215.53L186.01 220.61L187.28 226.96L189.82 232.04L192.36 235.85L194.9 238.39M192.36 200.29L189.82 205.37L188.55 209.18L187.28 215.53L187.28 220.61L188.55 226.96L189.82 230.77L192.36 235.85M221.57 211.72L220.3 214.26L217.76 216.8L207.6 224.42L205.06 226.96L203.79 229.5M205.06 216.8L206.33 214.26L208.87 211.72L212.68 211.72L217.76 214.26M206.33 214.26L208.87 212.99L212.68 212.99L217.76 214.26L220.3 214.26M205.06 226.96L207.6 226.96L212.68 228.23L216.49 228.23L219.03 226.96M207.6 226.96L212.68 229.5L216.49 229.5L219.03 226.96L220.3 224.42M227.79 197.75L230.33 200.29L232.87 204.1L235.41 209.18L236.68 215.53L236.68 220.61L235.41 226.96L232.87 232.04L230.33 235.85L227.79 238.39M230.33 200.29L232.87 205.37L234.14 209.18L235.41 215.53L235.41 220.61L234.14 226.96L232.87 230.77L230.33 235.85" stroke="#1c00e2" stroke-width="1.8"/>
<path d="M303.9 358.7L305.17 356.16L307.71 353.62L311.52 353.62L312.79 354.89L312.79 357.43L311.52 362.51L308.98 371.4M310.25 353.62L311.52 354.89L311.52 357.43L310.25 362.51L307.71 371.4M311.52 362.51L314.06 357.43L316.6 354.89L319.14 353.62L321.68 353.62L322.95 354.89L322.95 356.16L321.68 357.43L320.41 356.16L321.68 354.89M334.46 364.9L324.22 381.43M334.46 364.9L335.24 381.43M333.67 366.47L334.46 381.43M327.37 376.71L334.46 376.71M322.65 381.43L327.37 381.43M332.09 381.43L336.82 381.43M352.03 339.65L349.49 342.19L346.95 346L344.41 351.08L343.14 357.43L343.14 362.51L344.41 368.86L346.95 373.94L349.49 377.75L352.03 380.29M349.49 342.19L346.95 347.27L345.68 351.08L344.41 357.43L344.41 362.51L345.68 368.86L346.95 372.67L349.49 377.75M378.58 353.62L377.31 356.16L374.77 358.7L364.61 366.32L362.07 368.86L360.8 371.4M362.07 358.7L363.34 356.16L365.88 353.62L369.69 353.62L374.77 356.16M363.34 356.16L365.88 354.89L369.69 354.89L374.77 356.16L377.31 356.16M362.07 368.86L364.61 368.86L369.69 370.13L373.5 370.13L376.04 368.86M364.61 368.86L369.69 371.4L373.5 371.4L376.04 368.86L377.31 366.32M384.8 339.65L387.34 342.19L389.88 346L392.42 351.08L393.69 357.43L393.69 362.51L392.42 368.86L389.88 373.94L387.34 377.75L384.8 380.29M387.34 342.19L389.88 347.27L391.15 351.08L392.42 357.43L392.42 362.51L391.15 368.86L389.88 372.67L387.34 377.75" stroke="#000" stroke-width="1.8"/>
<path d="M726.09 34.65L723.55 37.19L721.01 41L718.47 46.08L717.2 52.43L717.2 57.51L718.47 63.86L721.01 68.94L723.55 72.75L726.09 75.29M723.55 37.19L721.01 42.27L719.74 46.08L718.47 52.43L718.47 57.51L719.74 63.86L721.01 67.67L723.55 72.75M736.25 51.16L736.25 52.43L734.98 52.43L734.98 51.16L736.25 49.89L738.79 48.62L743.87 48.62L746.41 49.89L747.68 51.16L748.95 53.7L748.95 62.59L750.22 65.13L751.49 66.4M747.68 51.16L747.68 62.59L748.95 65.13L751.49 66.4L752.76 66.4M747.68 53.7L746.41 54.97L738.79 56.24L734.98 57.51L733.71 60.05L733.71 62.59L734.98 65.13L738.79 66.4L742.6 66.4L745.14 65.13L747.68 62.59M738.79 56.24L736.25 57.51L734.98 60.05L734.98 62.59L736.25 65.13L738.79 66.4M759.11 34.65L761.65 37.19L764.19 41L766.73 46.08L768 52.43L768 57.51L766.73 63.86L764.19 68.94L761.65 72.75L759.11 75.29M761.65 37.19L764.19 42.27L765.46 46.08L766.73 52.43L766.73 57.51L765.46 63.86L764.19 67.67L761.65 72.75" stroke="#000" stroke-width="1.8"/>
<path d="M74.4 923V914.6M97.23 923V918.8M120.07 923V918.8M142.9 923V918.8M165.74 923V914.6M188.57 923V918.8M211.4 923V918.8M234.24 923V918.8M257.07 923V914.6M279.91 923V918.8M302.74 923V918.8M325.57 923V918.8M348.41 923V914.6M371.24 923V918.8M394.08 923V918.8M416.91 923V918.8M439.74 923V914.6M462.58 923V918.8M485.41 923V918.8M508.25 923V918.8M531.08 923V914.6M553.91 923V918.8M576.75 923V918.8M599.58 923V918.8M622.42 923V914.6M645.25 923V918.8M668.08 923V918.8M690.92 923V918.8M713.75 923V914.6M736.58 923V918.8M759.42 923V918.8M782.25 923V918.8M74.4 528.2V536.6M253.74 528.2V536.6M433.08 528.2V536.6M612.41 528.2V536.6M791.75 528.2V536.6M74.4 915.39H81.4M791.75 915.39H784.75M74.4 907.71H81.4M791.75 907.71H784.75M74.4 900.04H81.4M791.75 900.04H784.75M74.4 892.37H81.4M791.75 892.37H784.75M74.4 884.7H81.4M791.75 884.7H784.75M74.4 877.02H81.4M791.75 877.02H784.75M74.4 869.35H81.4M791.75 869.35H784.75M74.4 861.68H81.4M791.75 861.68H784.75M74.4 854H81.4M791.75 854H784.75M74.4 846.33H88.6M791.75 846.33H777.55M74.4 838.66H81.4M791.75 838.66H784.75M74.4 830.98H81.4M791.75 830.98H784.75M74.4 823.31H81.4M791.75 823.31H784.75M74.4 815.64H81.4M791.75 815.64H784.75M74.4 807.97H81.4M791.75 807.97H784.75M74.4 800.29H81.4M791.75 800.29H784.75M74.4 792.62H81.4M791.75 792.62H784.75M74.4 784.95H81.4M791.75 784.95H784.75M74.4 777.27H81.4M791.75 777.27H784.75M74.4 769.6H88.6M791.75 769.6H777.55M74.4 761.93H81.4M791.75 761.93H784.75M74.4 754.25H81.4M791.75 754.25H784.75M74.4 746.58H81.4M791.75 746.58H784.75M74.4 738.91H81.4M791.75 738.91H784.75M74.4 731.24H81.4M791.75 731.24H784.75M74.4 723.56H81.4M791.75 723.56H784.75M74.4 715.89H81.4M791.75 715.89H784.75M74.4 708.22H81.4M791.75 708.22H784.75M74.4 700.54H81.4M791.75 700.54H784.75M74.4 692.87H88.6M791.75 692.87H777.55M74.4 685.2H81.4M791.75 685.2H784.75M74.4 677.52H81.4M791.75 677.52H784.75M74.4 669.85H81.4M791.75 669.85H784.75M74.4 662.18H81.4M791.75 662.18H784.75M74.4 654.5H81.4M791.75 654.5H784.75M74.4 646.83H81.4M791.75 646.83H784.75M74.4 639.16H81.4M791.75 639.16H784.75M74.4 631.49H81.4M791.75 631.49H784.75M74.4 623.81H81.4M791.75 623.81H784.75M74.4 616.14H88.6M791.75 616.14H777.55M74.4 608.47H81.4M791.75 608.47H784.75M74.4 600.79H81.4M791.75 600.79H784.75M74.4 593.12H81.4M791.75 593.12H784.75M74.4 585.45H81.4M791.75 585.45H784.75M74.4 577.77H81.4M791.75 577.77H784.75M74.4 570.1H81.4M791.75 570.1H784.75M74.4 562.43H81.4M791.75 562.43H784.75M74.4 554.76H81.4M791.75 554.76H784.75M74.4 547.08H81.4M791.75 547.08H784.75M74.4 539.41H88.6M791.75 539.41H777.55M74.4 531.74H81.4M791.75 531.74H784.75" stroke="#000" stroke-width="1.8" stroke-linecap="butt"/>
<rect x="74.4" y="528.2" width="717.35" height="394.8" stroke="#000" stroke-width="2"/>
<path d="M55.92 950L52.61 951.1L50.4 954.42L49.29 959.94L49.29 963.25L50.4 968.78L52.61 972.1L55.92 973.2L58.13 973.2L61.45 972.1L63.66 968.78L64.76 963.25L64.76 959.94L63.66 954.42L61.45 951.1L58.13 950L55.92 950M55.92 950L53.71 951.1L52.61 952.21L51.5 954.42L50.4 959.94L50.4 963.25L51.5 968.78L52.61 970.99L53.71 972.1L55.92 973.2M58.13 973.2L60.34 972.1L61.45 970.99L62.55 968.78L63.66 963.25L63.66 959.94L62.55 954.42L61.45 952.21L60.34 951.1L58.13 950M73.6 970.99L72.5 972.1L73.6 973.2L74.71 972.1L73.6 970.99M89.07 950L85.76 951.1L83.55 954.42L82.44 959.94L82.44 963.25L83.55 968.78L85.76 972.1L89.07 973.2L91.28 973.2L94.6 972.1L96.81 968.78L97.91 963.25L97.91 959.94L96.81 954.42L94.6 951.1L91.28 950L89.07 950M89.07 950L86.86 951.1L85.76 952.21L84.65 954.42L83.55 959.94L83.55 963.25L84.65 968.78L85.76 970.99L86.86 972.1L89.07 973.2M91.28 973.2L93.49 972.1L94.6 970.99L95.7 968.78L96.81 963.25L96.81 959.94L95.7 954.42L94.6 952.21L93.49 951.1L91.28 950" stroke="#000" stroke-width="2.2"/>
<path d="M147.26 950L143.94 951.1L141.73 954.42L140.63 959.94L140.63 963.25L141.73 968.78L143.94 972.1L147.26 973.2L149.47 973.2L152.78 972.1L154.99 968.78L156.1 963.25L156.1 959.94L154.99 954.42L152.78 951.1L149.47 950L147.26 950M147.26 950L145.05 951.1L143.94 952.21L142.84 954.42L141.73 959.94L141.73 963.25L142.84 968.78L143.94 970.99L145.05 972.1L147.26 973.2M149.47 973.2L151.68 972.1L152.78 970.99L153.89 968.78L154.99 963.25L154.99 959.94L153.89 954.42L152.78 952.21L151.68 951.1L149.47 950M164.94 970.99L163.83 972.1L164.94 973.2L166.04 972.1L164.94 970.99M174.88 954.42L175.99 955.52L174.88 956.62L173.78 955.52L173.78 954.42L174.88 952.21L175.99 951.1L179.3 950L183.72 950L187.04 951.1L188.14 952.21L189.25 954.42L189.25 956.62L188.14 958.84L184.83 961.05L179.3 963.25L177.09 964.36L174.88 966.57L173.78 969.88L173.78 973.2M183.72 950L185.93 951.1L187.04 952.21L188.14 954.42L188.14 956.62L187.04 958.84L183.72 961.05L179.3 963.25M173.78 970.99L174.88 969.88L177.09 969.88L182.62 972.1L185.93 972.1L188.14 970.99L189.25 969.88M177.09 969.88L182.62 973.2L187.04 973.2L188.14 972.1L189.25 969.88L189.25 967.68" stroke="#000" stroke-width="2.2"/>
<path d="M238.59 950L235.28 951.1L233.07 954.42L231.96 959.94L231.96 963.25L233.07 968.78L235.28 972.1L238.59 973.2L240.8 973.2L244.12 972.1L246.33 968.78L247.43 963.25L247.43 959.94L246.33 954.42L244.12 951.1L240.8 950L238.59 950M238.59 950L236.38 951.1L235.28 952.21L234.17 954.42L233.07 959.94L233.07 963.25L234.17 968.78L235.28 970.99L236.38 972.1L238.59 973.2M240.8 973.2L243.01 972.1L244.12 970.99L245.22 968.78L246.33 963.25L246.33 959.94L245.22 954.42L244.12 952.21L243.01 951.1L240.8 950M256.27 970.99L255.17 972.1L256.27 973.2L257.38 972.1L256.27 970.99M275.06 952.21L275.06 973.2M276.16 950L276.16 973.2M276.16 950L264.01 966.57L281.69 966.57M271.74 973.2L279.48 973.2" stroke="#000" stroke-width="2.2"/>
<path d="M329.93 950L326.61 951.1L324.4 954.42L323.3 959.94L323.3 963.25L324.4 968.78L326.61 972.1L329.93 973.2L332.14 973.2L335.45 972.1L337.66 968.78L338.77 963.25L338.77 959.94L337.66 954.42L335.45 951.1L332.14 950L329.93 950M329.93 950L327.72 951.1L326.61 952.21L325.51 954.42L324.4 959.94L324.4 963.25L325.51 968.78L326.61 970.99L327.72 972.1L329.93 973.2M332.14 973.2L334.35 972.1L335.45 970.99L336.56 968.78L337.66 963.25L337.66 959.94L336.56 954.42L335.45 952.21L334.35 951.1L332.14 950M347.61 970.99L346.5 972.1L347.61 973.2L348.71 972.1L347.61 970.99M369.71 953.31L368.6 954.42L369.71 955.52L370.81 954.42L370.81 953.31L369.71 951.1L367.5 950L364.18 950L360.87 951.1L358.66 953.31L357.55 955.52L356.45 959.94L356.45 966.57L357.55 969.88L359.76 972.1L363.08 973.2L365.29 973.2L368.6 972.1L370.81 969.88L371.92 966.57L371.92 965.47L370.81 962.15L368.6 959.94L365.29 958.84L364.18 958.84L360.87 959.94L358.66 962.15L357.55 965.47M364.18 950L361.97 951.1L359.76 953.31L358.66 955.52L357.55 959.94L357.55 966.57L358.66 969.88L360.87 972.1L363.08 973.2M365.29 973.2L367.5 972.1L369.71 969.88L370.81 966.57L370.81 965.47L369.71 962.15L367.5 959.94L365.29 958.84" stroke="#000" stroke-width="2.2"/>
<path d="M421.26 950L417.95 951.1L415.74 954.42L414.63 959.94L414.63 963.25L415.74 968.78L417.95 972.1L421.26 973.2L423.47 973.2L426.79 972.1L429 968.78L430.1 963.25L430.1 959.94L429 954.42L426.79 951.1L423.47 950L421.26 950M421.26 950L419.05 951.1L417.95 952.21L416.84 954.42L415.74 959.94L415.74 963.25L416.84 968.78L417.95 970.99L419.05 972.1L421.26 973.2M423.47 973.2L425.68 972.1L426.79 970.99L427.89 968.78L429 963.25L429 959.94L427.89 954.42L426.79 952.21L425.68 951.1L423.47 950M438.94 970.99L437.84 972.1L438.94 973.2L440.05 972.1L438.94 970.99M453.31 950L449.99 951.1L448.89 953.31L448.89 956.62L449.99 958.84L453.31 959.94L457.73 959.94L461.04 958.84L462.15 956.62L462.15 953.31L461.04 951.1L457.73 950L453.31 950M453.31 950L451.1 951.1L449.99 953.31L449.99 956.62L451.1 958.84L453.31 959.94M457.73 959.94L459.94 958.84L461.04 956.62L461.04 953.31L459.94 951.1L457.73 950M453.31 959.94L449.99 961.05L448.89 962.15L447.78 964.36L447.78 968.78L448.89 970.99L449.99 972.1L453.31 973.2L457.73 973.2L461.04 972.1L462.15 970.99L463.25 968.78L463.25 964.36L462.15 962.15L461.04 961.05L457.73 959.94M453.31 959.94L451.1 961.05L449.99 962.15L448.89 964.36L448.89 968.78L449.99 970.99L451.1 972.1L453.31 973.2M457.73 973.2L459.94 972.1L461.04 970.99L462.15 968.78L462.15 964.36L461.04 962.15L459.94 961.05L457.73 959.94" stroke="#000" stroke-width="2.2"/>
<path d="M509.28 954.42L511.49 953.31L514.81 950L514.81 973.2M513.7 951.1L513.7 973.2M509.28 973.2L519.23 973.2M530.28 970.99L529.17 972.1L530.28 973.2L531.38 972.1L530.28 970.99M545.75 950L542.43 951.1L540.22 954.42L539.12 959.94L539.12 963.25L540.22 968.78L542.43 972.1L545.75 973.2L547.96 973.2L551.27 972.1L553.48 968.78L554.59 963.25L554.59 959.94L553.48 954.42L551.27 951.1L547.96 950L545.75 950M545.75 950L543.54 951.1L542.43 952.21L541.33 954.42L540.22 959.94L540.22 963.25L541.33 968.78L542.43 970.99L543.54 972.1L545.75 973.2M547.96 973.2L550.17 972.1L551.27 970.99L552.38 968.78L553.48 963.25L553.48 959.94L552.38 954.42L551.27 952.21L550.17 951.1L547.96 950" stroke="#000" stroke-width="2.2"/>
<path d="M600.62 954.42L602.83 953.31L606.15 950L606.15 973.2M605.04 951.1L605.04 973.2M600.62 973.2L610.57 973.2M621.62 970.99L620.51 972.1L621.62 973.2L622.72 972.1L621.62 970.99M631.56 954.42L632.67 955.52L631.56 956.62L630.46 955.52L630.46 954.42L631.56 952.21L632.67 951.1L635.98 950L640.4 950L643.72 951.1L644.82 952.21L645.93 954.42L645.93 956.62L644.82 958.84L641.51 961.05L635.98 963.25L633.77 964.36L631.56 966.57L630.46 969.88L630.46 973.2M640.4 950L642.61 951.1L643.72 952.21L644.82 954.42L644.82 956.62L643.72 958.84L640.4 961.05L635.98 963.25M630.46 970.99L631.56 969.88L633.77 969.88L639.3 972.1L642.61 972.1L644.82 970.99L645.93 969.88M633.77 969.88L639.3 973.2L643.72 973.2L644.82 972.1L645.93 969.88L645.93 967.68" stroke="#000" stroke-width="2.2"/>
<path d="M691.96 954.42L694.17 953.31L697.48 950L697.48 973.2M696.38 951.1L696.38 973.2M691.96 973.2L701.9 973.2M712.95 970.99L711.85 972.1L712.95 973.2L714.06 972.1L712.95 970.99M731.74 952.21L731.74 973.2M732.84 950L732.84 973.2M732.84 950L720.69 966.57L738.37 966.57M728.42 973.2L736.16 973.2" stroke="#000" stroke-width="2.2"/>
<path d="M44.62 533.22L45.73 534.32L44.62 535.42L43.52 534.32L43.52 533.22L44.62 531L45.73 529.9L49.04 528.79L53.46 528.79L56.77 529.9L57.88 532.11L57.88 535.42L56.77 537.63L53.46 538.74L50.15 538.74M53.46 528.79L55.67 529.9L56.77 532.11L56.77 535.42L55.67 537.63L53.46 538.74M53.46 538.74L55.67 539.85L57.88 542.05L58.98 544.26L58.98 547.58L57.88 549.79L56.77 550.89L53.46 552L49.04 552L45.73 550.89L44.62 549.79L43.52 547.58L43.52 546.48L44.62 545.37L45.73 546.48L44.62 547.58M56.77 540.95L57.88 544.26L57.88 547.58L56.77 549.79L55.67 550.89L53.46 552" stroke="#000" stroke-width="2.2"/>
<path d="M44.62 610.25L45.73 611.36L44.62 612.46L43.52 611.36L43.52 610.25L44.62 608.04L45.73 606.94L49.04 605.83L53.46 605.83L56.77 606.94L57.88 608.04L58.98 610.25L58.98 612.46L57.88 614.67L54.56 616.88L49.04 619.09L46.83 620.2L44.62 622.41L43.52 625.72L43.52 629.04M53.46 605.83L55.67 606.94L56.77 608.04L57.88 610.25L57.88 612.46L56.77 614.67L53.46 616.88L49.04 619.09M43.52 626.83L44.62 625.72L46.83 625.72L52.35 627.93L55.67 627.93L57.88 626.83L58.98 625.72M46.83 625.72L52.35 629.04L56.77 629.04L57.88 627.93L58.98 625.72L58.98 623.51" stroke="#000" stroke-width="2.2"/>
<path d="M46.83 686.99L49.04 685.88L52.35 682.56L52.35 705.77M51.25 683.67L51.25 705.77M46.83 705.77L56.77 705.77" stroke="#000" stroke-width="2.2"/>
<path d="M50.15 759.29L46.83 760.4L44.62 763.72L43.52 769.24L43.52 772.55L44.62 778.08L46.83 781.39L50.15 782.5L52.35 782.5L55.67 781.39L57.88 778.08L58.98 772.55L58.98 769.24L57.88 763.72L55.67 760.4L52.35 759.29L50.15 759.29M50.15 759.29L47.94 760.4L46.83 761.5L45.73 763.72L44.62 769.24L44.62 772.55L45.73 778.08L46.83 780.29L47.94 781.39L50.15 782.5M52.35 782.5L54.56 781.39L55.67 780.29L56.77 778.08L57.88 772.55L57.88 769.24L56.77 763.72L55.67 761.5L54.56 760.4L52.35 759.29" stroke="#000" stroke-width="2.2"/>
<path d="M16.77 849.28L34.9 849.28M46.83 840.45L49.04 839.34L52.36 836.02L52.36 859.23M51.25 837.13L51.25 859.23M46.83 859.23L56.78 859.23" stroke="#000" stroke-width="2.2"/>
<path d="M16.77 913.05L34.9 913.05M44.62 904.22L45.73 905.32L44.62 906.42L43.52 905.32L43.52 904.22L44.62 902L45.73 900.9L49.04 899.79L53.46 899.79L56.78 900.9L57.88 902L58.99 904.22L58.99 906.42L57.88 908.63L54.57 910.85L49.04 913.05L46.83 914.16L44.62 916.37L43.52 919.68L43.52 923M53.46 899.79L55.67 900.9L56.78 902L57.88 904.22L57.88 906.42L56.78 908.63L53.46 910.85L49.04 913.05M43.52 920.79L44.62 919.68L46.83 919.68L52.36 921.89L55.67 921.89L57.88 920.79L58.99 919.68M46.83 919.68L52.36 923L56.78 923L57.88 921.89L58.99 919.68L58.99 917.48" stroke="#000" stroke-width="2.2"/>
<path clip-path="url(#cb)" d="M74.4 676.69L76.19 677.07L77.99 677.46L79.78 677.84L81.57 678.22L83.37 678.6L85.16 678.98L86.95 679.37L88.75 679.75L90.54 680.12L92.33 680.5L94.13 680.88L95.92 681.26L97.71 681.64L99.51 682.01L101.3 682.39L103.09 682.77L104.89 683.14L106.68 683.51L108.47 683.89L110.27 684.26L112.06 684.63L113.85 685.01L115.65 685.38L117.44 685.75L119.23 686.12L121.03 686.49L122.82 686.86L124.61 687.23L126.41 687.6L128.2 687.96L129.99 688.33L131.79 688.7L133.58 689.06L135.37 689.43L137.17 689.79L138.96 690.16L140.75 690.52L142.55 690.88L144.34 691.25L146.13 691.61L147.93 691.97L149.72 692.33L151.52 692.69L153.31 693.05L155.1 693.41L156.9 693.77L158.69 694.13L160.48 694.48L162.28 694.84L164.07 695.2L165.86 695.55L167.66 695.91L169.45 696.26L171.24 696.61L173.04 696.97L174.83 697.32L176.62 697.67L178.42 698.02L180.21 698.37L182 698.72L183.8 699.07L185.59 699.42L187.38 699.77L189.18 700.12L190.97 700.47L192.76 700.81L194.56 701.16L196.35 701.51L198.14 701.85L199.94 702.2L201.73 702.54L203.52 702.88L205.32 703.23L207.11 703.57L208.9 703.91L210.7 704.25L212.49 704.59L214.28 704.93L216.08 705.27L217.87 705.61L219.66 705.95L221.46 706.28L223.25 706.62L225.04 706.96L226.84 707.29L228.63 707.63L230.42 707.96L232.22 708.29L234.01 708.63L235.8 708.96L237.6 709.29L239.39 709.62L241.18 709.95L242.98 710.28L244.77 710.61L246.56 710.94L248.36 711.27L250.15 711.6L251.94 711.92L253.74 712.25L255.53 712.58L257.32 712.9L259.12 713.22L260.91 713.55L262.7 713.87L264.5 714.19L266.29 714.52L268.08 714.84L269.88 715.16L271.67 715.48L273.46 715.8L275.26 716.12L277.05 716.43L278.84 716.75L280.64 717.07L282.43 717.38L284.22 717.7L286.02 718.01L287.81 718.33L289.61 718.64L291.4 718.96L293.19 719.27L294.99 719.58L296.78 719.89L298.57 720.2L300.37 720.51L302.16 720.82L303.95 721.13L305.75 721.43L307.54 721.74L309.33 722.05L311.13 722.35L312.92 722.66L314.71 722.96L316.51 723.27L318.3 723.57L320.09 723.87L321.89 724.17L323.68 724.47L325.47 724.77L327.27 725.07L329.06 725.37L330.85 725.67L332.65 725.97L334.44 726.27L336.23 726.56L338.03 726.86L339.82 727.15L341.61 727.45L343.41 727.74L345.2 728.03L346.99 728.32L348.79 728.61L350.58 728.9L352.37 729.19L354.17 729.48L355.96 729.77L357.75 730.06L359.55 730.35L361.34 730.63L363.13 730.92L364.93 731.2L366.72 731.49L368.51 731.77L370.31 732.05L372.1 732.33L373.89 732.62L375.69 732.9L377.48 733.18L379.27 733.45L381.07 733.73L382.86 734.01L384.65 734.29L386.45 734.56L388.24 734.84L390.03 735.11L391.83 735.38L393.62 735.66L395.41 735.93L397.21 736.2L399 736.47L400.79 736.74L402.59 737.01L404.38 737.28L406.17 737.54L407.97 737.81L409.76 738.08L411.55 738.34L413.35 738.61L415.14 738.87L416.93 739.13L418.73 739.39L420.52 739.65L422.31 739.91L424.11 740.17L425.9 740.43L427.69 740.69L429.49 740.95L431.28 741.2L433.08 741.46L434.87 741.71L436.66 741.97L438.46 742.22L440.25 742.47L442.04 742.72L443.84 742.97L445.63 743.22L447.42 743.47L449.22 743.72L451.01 743.96L452.8 744.21L454.6 744.45L456.39 744.7L458.18 744.94L459.98 745.18L461.77 745.43L463.56 745.67L465.36 745.91L467.15 746.14L468.94 746.38L470.74 746.62L472.53 746.86L474.32 747.09L476.12 747.33L477.91 747.56L479.7 747.79L481.5 748.02L483.29 748.25L485.08 748.48L486.88 748.71L488.67 748.94L490.46 749.17L492.26 749.39L494.05 749.62L495.84 749.84L497.64 750.06L499.43 750.29L501.22 750.51L503.02 750.73L504.81 750.95L506.6 751.17L508.4 751.38L510.19 751.6L511.98 751.81L513.78 752.03L515.57 752.24L517.36 752.45L519.16 752.67L520.95 752.88L522.74 753.09L524.54 753.29L526.33 753.5L528.12 753.71L529.92 753.91L531.71 754.12L533.5 754.32L535.3 754.52L537.09 754.72L538.88 754.92L540.68 755.12L542.47 755.32L544.26 755.52L546.06 755.71L547.85 755.91L549.64 756.1L551.44 756.29L553.23 756.48L555.02 756.67L556.82 756.86L558.61 757.05L560.4 757.24L562.2 757.42L563.99 757.61L565.78 757.79L567.58 757.98L569.37 758.16L571.16 758.34L572.96 758.52L574.75 758.69L576.54 758.87L578.34 759.05L580.13 759.22L581.93 759.39L583.72 759.57L585.51 759.74L587.31 759.91L589.1 760.08L590.89 760.24L592.69 760.41L594.48 760.57L596.27 760.74L598.07 760.9L599.86 761.06L601.65 761.22L603.45 761.38L605.24 761.54L607.03 761.7L608.83 761.85L610.62 762L612.41 762.16L614.21 762.31L616 762.46L617.79 762.61L619.59 762.75L621.38 762.9L623.17 763.05L624.97 763.19L626.76 763.33L628.55 763.47L630.35 763.61L632.14 763.75L633.93 763.89L635.73 764.02L637.52 764.16L639.31 764.29L641.11 764.42L642.9 764.55L644.69 764.68L646.49 764.81L648.28 764.94L650.07 765.06L651.87 765.18L653.66 765.31L655.45 765.43L657.25 765.55L659.04 765.66L660.83 765.78L662.63 765.9L664.42 766.01L666.21 766.12L668.01 766.23L669.8 766.34L671.59 766.45L673.39 766.56L675.18 766.66L676.97 766.77L678.77 766.87L680.56 766.97L682.35 767.07L684.15 767.16L685.94 767.26L687.73 767.36L689.53 767.45L691.32 767.54L693.11 767.63L694.91 767.72L696.7 767.81L698.49 767.89L700.29 767.98L702.08 768.06L703.87 768.14L705.67 768.22L707.46 768.3L709.25 768.37L711.05 768.45L712.84 768.52L714.63 768.59L716.43 768.66L718.22 768.73L720.02 768.8L721.81 768.86L723.6 768.93L725.4 768.99L727.19 769.05L728.98 769.11L730.78 769.17L732.57 769.22L734.36 769.28L736.16 769.33L737.95 769.38L739.74 769.43L741.54 769.48L743.33 769.52L745.12 769.57L746.92 769.61L748.71 769.65L750.5 769.69L752.3 769.73L754.09 769.77L755.88 769.8L757.68 769.83L759.47 769.86L761.26 769.89L763.06 769.92L764.85 769.95L766.64 769.97L768.44 769.99L770.23 770.02L772.02 770.03L773.82 770.05L775.61 770.07L777.4 770.08L779.2 770.1L780.99 770.11L782.78 770.12L784.58 770.12L786.37 770.13L788.16 770.13L789.96 770.14L791.75 770.14" stroke="#000" stroke-width="2" stroke-linecap="butt"/>
<path clip-path="url(#cb)" d="M74.4 556.16L76.19 556.93L77.99 557.7L79.78 558.46L81.57 559.22L83.37 559.98L85.16 560.74L86.95 561.5L88.75 562.26L90.54 563.01L92.33 563.76L94.13 564.51L95.92 565.26L97.71 566.01L99.51 566.76L101.3 567.5L103.09 568.24L104.89 568.98L106.68 569.72L108.47 570.46L110.27 571.2L112.06 571.93L113.85 572.66L115.65 573.39L117.44 574.12L119.23 574.85L121.03 575.58L122.82 576.3L124.61 577.02L126.41 577.74L128.2 578.46L129.99 579.18L131.79 579.9L133.58 580.61L135.37 581.32L137.17 582.03L138.96 582.74L140.75 583.45L142.55 584.16L144.34 584.86L146.13 585.57L147.93 586.27L149.72 586.97L151.52 587.67L153.31 588.36L155.1 589.06L156.9 589.75L158.69 590.44L160.48 591.14L162.28 591.82L164.07 592.51L165.86 593.2L167.66 593.88L169.45 594.57L171.24 595.25L173.04 595.93L174.83 596.6L176.62 597.28L178.42 597.96L180.21 598.63L182 599.3L183.8 599.97L185.59 600.64L187.38 601.31L189.18 601.98L190.97 602.64L192.76 603.31L194.56 603.97L196.35 604.63L198.14 605.29L199.94 605.95L201.73 606.6L203.52 607.26L205.32 607.91L207.11 608.56L208.9 609.21L210.7 609.86L212.49 610.51L214.28 611.16L216.08 611.8L217.87 612.45L219.66 613.09L221.46 613.73L223.25 614.37L225.04 615.01L226.84 615.64L228.63 616.28L230.42 616.91L232.22 617.55L234.01 618.18L235.8 618.81L237.6 619.44L239.39 620.06L241.18 620.69L242.98 621.32L244.77 621.94L246.56 622.56L248.36 623.18L250.15 623.8L251.94 624.42L253.74 625.04L255.53 625.65L257.32 626.27L259.12 626.88L260.91 627.49L262.7 628.1L264.5 628.71L266.29 629.32L268.08 629.93L269.88 630.54L271.67 631.14L273.46 631.74L275.26 632.35L277.05 632.95L278.84 633.55L280.64 634.15L282.43 634.74L284.22 635.34L286.02 635.94L287.81 636.53L289.61 637.12L291.4 637.71L293.19 638.31L294.99 638.9L296.78 639.48L298.57 640.07L300.37 640.66L302.16 641.24L303.95 641.83L305.75 642.41L307.54 642.99L309.33 643.57L311.13 644.15L312.92 644.73L314.71 645.3L316.51 645.88L318.3 646.46L320.09 647.03L321.89 647.6L323.68 648.17L325.47 648.74L327.27 649.31L329.06 649.88L330.85 650.45L332.65 651.02L334.44 651.58L336.23 652.15L338.03 652.71L339.82 653.27L341.61 653.83L343.41 654.39L345.2 654.95L346.99 655.51L348.79 656.07L350.58 656.62L352.37 657.18L354.17 657.73L355.96 658.29L357.75 658.84L359.55 659.39L361.34 659.94L363.13 660.49L364.93 661.04L366.72 661.59L368.51 662.13L370.31 662.68L372.1 663.22L373.89 663.77L375.69 664.31L377.48 664.85L379.27 665.39L381.07 665.93L382.86 666.47L384.65 667.01L386.45 667.54L388.24 668.08L390.03 668.62L391.83 669.15L393.62 669.68L395.41 670.22L397.21 670.75L399 671.28L400.79 671.81L402.59 672.34L404.38 672.86L406.17 673.39L407.97 673.92L409.76 674.44L411.55 674.97L413.35 675.49L415.14 676.01L416.93 676.54L418.73 677.06L420.52 677.58L422.31 678.1L424.11 678.61L425.9 679.13L427.69 679.65L429.49 680.16L431.28 680.68L433.08 681.19L434.87 681.71L436.66 682.22L438.46 682.73L440.25 683.24L442.04 683.75L443.84 684.26L445.63 684.77L447.42 685.28L449.22 685.79L451.01 686.29L452.8 686.8L454.6 687.3L456.39 687.8L458.18 688.31L459.98 688.81L461.77 689.31L463.56 689.81L465.36 690.31L467.15 690.81L468.94 691.31L470.74 691.81L472.53 692.3L474.32 692.8L476.12 693.29L477.91 693.79L479.7 694.28L481.5 694.77L483.29 695.27L485.08 695.76L486.88 696.25L488.67 696.74L490.46 697.23L492.26 697.71L494.05 698.2L495.84 698.69L497.64 699.17L499.43 699.66L501.22 700.14L503.02 700.63L504.81 701.11L506.6 701.59L508.4 702.08L510.19 702.56L511.98 703.04L513.78 703.52L515.57 703.99L517.36 704.47L519.16 704.95L520.95 705.43L522.74 705.9L524.54 706.38L526.33 706.85L528.12 707.33L529.92 707.8L531.71 708.27L533.5 708.74L535.3 709.22L537.09 709.69L538.88 710.16L540.68 710.62L542.47 711.09L544.26 711.56L546.06 712.03L547.85 712.49L549.64 712.96L551.44 713.42L553.23 713.89L555.02 714.35L556.82 714.81L558.61 715.28L560.4 715.74L562.2 716.2L563.99 716.66L565.78 717.12L567.58 717.58L569.37 718.04L571.16 718.49L572.96 718.95L574.75 719.41L576.54 719.86L578.34 720.32L580.13 720.77L581.93 721.23L583.72 721.68L585.51 722.13L587.31 722.58L589.1 723.03L590.89 723.49L592.69 723.94L594.48 724.38L596.27 724.83L598.07 725.28L599.86 725.73L601.65 726.17L603.45 726.62L605.24 727.07L607.03 727.51L608.83 727.96L610.62 728.4L612.41 728.84L614.21 729.28L616 729.73L617.79 730.17L619.59 730.61L621.38 731.05L623.17 731.49L624.97 731.92L626.76 732.36L628.55 732.8L630.35 733.24L632.14 733.67L633.93 734.11L635.73 734.54L637.52 734.98L639.31 735.41L641.11 735.84L642.9 736.28L644.69 736.71L646.49 737.14L648.28 737.57L650.07 738L651.87 738.43L653.66 738.86L655.45 739.29L657.25 739.72L659.04 740.14L660.83 740.57L662.63 740.99L664.42 741.42L666.21 741.84L668.01 742.27L669.8 742.69L671.59 743.12L673.39 743.54L675.18 743.96L676.97 744.38L678.77 744.8L680.56 745.22L682.35 745.64L684.15 746.06L685.94 746.48L687.73 746.9L689.53 747.31L691.32 747.73L693.11 748.14L694.91 748.56L696.7 748.97L698.49 749.39L700.29 749.8L702.08 750.22L703.87 750.63L705.67 751.04L707.46 751.45L709.25 751.86L711.05 752.27L712.84 752.68L714.63 753.09L716.43 753.5L718.22 753.91L720.02 754.31L721.81 754.72L723.6 755.13L725.4 755.53L727.19 755.94L728.98 756.34L730.78 756.75L732.57 757.15L734.36 757.55L736.16 757.95L737.95 758.35L739.74 758.76L741.54 759.16L743.33 759.56L745.12 759.96L746.92 760.35L748.71 760.75L750.5 761.15L752.3 761.55L754.09 761.94L755.88 762.34L757.68 762.73L759.47 763.13L761.26 763.52L763.06 763.92L764.85 764.31L766.64 764.7L768.44 765.09L770.23 765.49L772.02 765.88L773.82 766.27L775.61 766.66L777.4 767.04L779.2 767.43L780.99 767.82L782.78 768.21L784.58 768.6L786.37 768.98L788.16 769.37L789.96 769.75L791.75 770.14" stroke="#1c00e2" stroke-width="3" stroke-linecap="butt" stroke-dasharray="2.8 5.511"/>
<path d="M790.45 769.6V840.19" stroke="#1c00e2" stroke-width="2.8" stroke-dasharray="3 5.45" stroke-linecap="butt"/>
<path clip-path="url(#cb)" d="M74.4 556.16L76.19 556.93L77.99 557.7L79.78 558.47L81.57 559.24L83.37 560L85.16 560.77L86.95 561.54L88.75 562.31L90.54 563.08L92.33 563.85L94.13 564.62L95.92 565.39L97.71 566.15L99.51 566.92L101.3 567.69L103.09 568.46L104.89 569.23L106.68 570L108.47 570.77L110.27 571.54L112.06 572.31L113.85 573.08L115.65 573.85L117.44 574.62L119.23 575.39L121.03 576.16L122.82 576.93L124.61 577.7L126.41 578.47L128.2 579.24L129.99 580.01L131.79 580.78L133.58 581.55L135.37 582.32L137.17 583.09L138.96 583.86L140.75 584.63L142.55 585.4L144.34 586.18L146.13 586.95L147.93 587.72L149.72 588.49L151.52 589.26L153.31 590.04L155.1 590.81L156.9 591.58L158.69 592.36L160.48 593.13L162.28 593.9L164.07 594.68L165.86 595.45L167.66 596.22L169.45 597L171.24 597.77L173.04 598.55L174.83 599.32L176.62 600.1L178.42 600.87L180.21 601.65L182 602.43L183.8 603.2L185.59 603.98L187.38 604.76L189.18 605.54L190.97 606.31L192.76 607.09L194.56 607.87L196.35 608.65L198.14 609.43L199.94 610.21L201.73 610.99L203.52 611.77L205.32 612.55L207.11 613.33L208.9 614.11L210.7 614.89L212.49 615.67L214.28 616.45L216.08 617.24L217.87 618.02L219.66 618.8L221.46 619.59L223.25 620.37L225.04 621.15L226.84 621.94L228.63 622.73L230.42 623.51L232.22 624.3L234.01 625.08L235.8 625.87L237.6 626.66L239.39 627.45L241.18 628.24L242.98 629.03L244.77 629.81L246.56 630.6L248.36 631.4L250.15 632.19L251.94 632.98L253.74 633.77L255.53 634.56L257.32 635.36L259.12 636.15L260.91 636.94L262.7 637.74L264.5 638.53L266.29 639.33L268.08 640.13L269.88 640.92L271.67 641.72L273.46 642.52L275.26 643.32L277.05 644.12L278.84 644.92L280.64 645.72L282.43 646.52L284.22 647.32L286.02 648.12L287.81 648.92L289.61 649.73L291.4 650.53L293.19 651.34L294.99 652.14L296.78 652.95L298.57 653.76L300.37 654.56L302.16 655.37L303.95 656.18L305.75 656.99L307.54 657.8L309.33 658.61L311.13 659.42L312.92 660.24L314.71 661.05L316.51 661.86L318.3 662.68L320.09 663.49L321.89 664.31L323.68 665.12L325.47 665.94L327.27 666.76L329.06 667.58L330.85 668.4L332.65 669.22L334.44 670.04L336.23 670.86L338.03 671.69L339.82 672.51L341.61 673.33L343.41 674.16L345.2 674.99L346.99 675.81L348.79 676.64L350.58 677.47L352.37 678.3L354.17 679.13L355.96 679.96L357.75 680.79L359.55 681.62L361.34 682.46L363.13 683.29L364.93 684.13L366.72 684.96L368.51 685.8L370.31 686.64L372.1 687.48L373.89 688.32L375.69 689.16L377.48 690L379.27 690.84L381.07 691.68L382.86 692.53L384.65 693.37L386.45 694.22L388.24 695.06L390.03 695.91L391.83 696.76L393.62 697.61L395.41 698.46L397.21 699.31L399 700.16L400.79 701.01L402.59 701.87L404.38 702.72L406.17 703.58L407.97 704.43L409.76 705.29L411.55 706.15L413.35 707.01L415.14 707.87L416.93 708.73L418.73 709.59L420.52 710.45L422.31 711.32L424.11 712.18L425.9 713.04L427.69 713.91L429.49 714.78L431.28 715.65L433.08 716.51L434.87 717.38L436.66 718.25L438.46 719.13L440.25 720L442.04 720.87L443.84 721.74L445.63 722.62L447.42 723.49L449.22 724.37L451.01 725.25L452.8 726.13L454.6 727L456.39 727.88L458.18 728.77L459.98 729.65L461.77 730.53L463.56 731.41L465.36 732.3L467.15 733.18L468.94 734.06L470.74 734.95L472.53 735.84L474.32 736.72L476.12 737.61L477.91 738.5L479.7 739.39L481.5 740.28L483.29 741.17L485.08 742.07L486.88 742.96L488.67 743.85L490.46 744.74L492.26 745.64L494.05 746.53L495.84 747.43L497.64 748.33L499.43 749.22L501.22 750.12L503.02 751.02L504.81 751.92L506.6 752.82L508.4 753.72L510.19 754.62L511.98 755.52L513.78 756.42L515.57 757.32L517.36 758.22L519.16 759.13L520.95 760.03L522.74 760.93L524.54 761.84L526.33 762.74L528.12 763.64L529.92 764.55L531.71 765.46L533.5 766.36L535.3 767.27L537.09 768.17L538.88 769.08L540.68 769.99L542.47 770.89L544.26 771.8L546.06 772.71L547.85 773.62L549.64 774.52L551.44 775.43L553.23 776.34L555.02 777.25L556.82 778.16L558.61 779.07L560.4 779.97L562.2 780.88L563.99 781.79L565.78 782.7L567.58 783.61L569.37 784.52L571.16 785.43L572.96 786.33L574.75 787.24L576.54 788.15L578.34 789.06L580.13 789.97L581.93 790.87L583.72 791.78L585.51 792.69L587.31 793.59L589.1 794.5L590.89 795.41L592.69 796.31L594.48 797.22L596.27 798.12L598.07 799.03L599.86 799.93L601.65 800.84L603.45 801.74L605.24 802.64L607.03 803.55L608.83 804.45L610.62 805.35L612.41 806.25L614.21 807.15L616 808.05L617.79 808.95L619.59 809.85L621.38 810.75L623.17 811.65L624.97 812.54L626.76 813.44L628.55 814.33L630.35 815.23L632.14 816.12L633.93 817.01L635.73 817.91L637.52 818.8L639.31 819.69L641.11 820.58L642.9 821.47L644.69 822.35L646.49 823.24L648.28 824.13L650.07 825.01L651.87 825.89L653.66 826.78L655.45 827.66L657.25 828.54L659.04 829.42L660.83 830.3L662.63 831.18L664.42 832.05L666.21 832.93L668.01 833.8L669.8 834.67L671.59 835.55L673.39 836.42L675.18 837.29L676.97 838.15L678.77 839.02L680.56 839.89L682.35 840.75L684.15 841.62L685.94 842.48L687.73 843.34L689.53 844.2L691.32 845.05L693.11 845.91L694.91 846.77L696.7 847.62L698.49 848.47L700.29 849.32L702.08 850.17L703.87 851.02L705.67 851.87L707.46 852.71L709.25 853.56L711.05 854.4L712.84 855.24L714.63 856.08L716.43 856.92L718.22 857.75L720.02 858.59L721.81 859.42L723.6 860.25L725.4 861.08L727.19 861.91L728.98 862.74L730.78 863.57L732.57 864.39L734.36 865.21L736.16 866.03L737.95 866.85L739.74 867.67L741.54 868.49L743.33 869.3L745.12 870.11L746.92 870.92L748.71 871.73L750.5 872.54L752.3 873.35L754.09 874.15L755.88 874.96L757.68 875.76L759.47 876.56L761.26 877.36L763.06 878.15L764.85 878.95L766.64 879.74L768.44 880.53L770.23 881.32L772.02 882.11L773.82 882.89L775.61 883.68L777.4 884.46L779.2 885.24L780.99 886.02L782.78 886.8L784.58 887.58L786.37 888.35L788.16 889.12L789.96 889.89L791.75 890.66" stroke="#ff2a00" stroke-width="3" stroke-linecap="butt" stroke-dasharray="12 11.745"/>
<path d="M72.5 488.3L69.18 489.4L66.97 492.71L65.87 498.24L65.87 501.56L66.97 507.08L69.18 510.39L72.5 511.5L74.71 511.5L78.02 510.39L80.23 507.08L81.34 501.56L81.34 498.24L80.23 492.71L78.02 489.4L74.71 488.3L72.5 488.3M72.5 488.3L70.29 489.4L69.18 490.5L68.08 492.71L66.97 498.24L66.97 501.56L68.08 507.08L69.18 509.29L70.29 510.39L72.5 511.5M74.71 511.5L76.92 510.39L78.02 509.29L79.13 507.08L80.23 501.56L80.23 498.24L79.13 492.71L78.02 490.5L76.92 489.4L74.71 488.3" stroke="#000" stroke-width="2.2"/>
<path d="M227.35 497.13L222.93 511.5M227.35 497.13L224.04 511.5M233.98 497.13L233.98 511.5M233.98 497.13L235.09 511.5M219.62 499.35L221.83 497.13L225.14 496.03L239.51 496.03M219.62 499.35L221.83 498.24L225.14 497.13L239.51 497.13M263.82 483.88L243.93 519.24M274.21 488.3L270.89 489.4L269.79 491.61L269.79 494.93L270.89 497.13L274.21 498.24L278.63 498.24L281.94 497.13L283.05 494.93L283.05 491.61L281.94 489.4L278.63 488.3L274.21 488.3M274.21 488.3L272 489.4L270.89 491.61L270.89 494.93L272 497.13L274.21 498.24M278.63 498.24L280.84 497.13L281.94 494.93L281.94 491.61L280.84 489.4L278.63 488.3M274.21 498.24L270.89 499.35L269.79 500.45L268.68 502.66L268.68 507.08L269.79 509.29L270.89 510.39L274.21 511.5L278.63 511.5L281.94 510.39L283.05 509.29L284.15 507.08L284.15 502.66L283.05 500.45L281.94 499.35L278.63 498.24M274.21 498.24L272 499.35L270.89 500.45L269.79 502.66L269.79 507.08L270.89 509.29L272 510.39L274.21 511.5M278.63 511.5L280.84 510.39L281.94 509.29L283.05 507.08L283.05 502.66L281.94 500.45L280.84 499.35L278.63 498.24" stroke="#000" stroke-width="2.2"/>
<path d="M406.69 497.13L402.27 511.5M406.69 497.13L403.38 511.5M413.32 497.13L413.32 511.5M413.32 497.13L414.43 511.5M398.96 499.35L401.17 497.13L404.48 496.03L418.85 496.03M398.96 499.35L401.17 498.24L404.48 497.13L418.85 497.13M443.16 483.88L423.27 519.24M457.96 490.5L457.96 511.5M459.07 488.3L459.07 511.5M459.07 488.3L446.91 504.87L464.59 504.87M454.65 511.5L462.38 511.5" stroke="#000" stroke-width="2.2"/>
<path d="M569.45 492.71L570.56 493.82L569.45 494.93L568.35 493.82L568.35 492.71L569.45 490.5L570.56 489.4L573.87 488.3L578.29 488.3L581.61 489.4L582.71 491.61L582.71 494.93L581.61 497.13L578.29 498.24L574.98 498.24M578.29 488.3L580.5 489.4L581.61 491.61L581.61 494.93L580.5 497.13L578.29 498.24M578.29 498.24L580.5 499.35L582.71 501.56L583.82 503.76L583.82 507.08L582.71 509.29L581.61 510.39L578.29 511.5L573.87 511.5L570.56 510.39L569.45 509.29L568.35 507.08L568.35 505.98L569.45 504.87L570.56 505.98L569.45 507.08M581.61 500.45L582.71 503.76L582.71 507.08L581.61 509.29L580.5 510.39L578.29 511.5M597.08 497.13L592.66 511.5M597.08 497.13L593.76 511.5M603.71 497.13L603.71 511.5M603.71 497.13L604.81 511.5M589.34 499.35L591.55 497.13L594.87 496.03L609.23 496.03M589.34 499.35L591.55 498.24L594.87 497.13L609.23 497.13M633.54 483.88L613.65 519.24M643.93 488.3L640.62 489.4L639.51 491.61L639.51 494.93L640.62 497.13L643.93 498.24L648.35 498.24L651.67 497.13L652.77 494.93L652.77 491.61L651.67 489.4L648.35 488.3L643.93 488.3M643.93 488.3L641.72 489.4L640.62 491.61L640.62 494.93L641.72 497.13L643.93 498.24M648.35 498.24L650.56 497.13L651.67 494.93L651.67 491.61L650.56 489.4L648.35 488.3M643.93 498.24L640.62 499.35L639.51 500.45L638.41 502.66L638.41 507.08L639.51 509.29L640.62 510.39L643.93 511.5L648.35 511.5L651.67 510.39L652.77 509.29L653.88 507.08L653.88 502.66L652.77 500.45L651.67 499.35L648.35 498.24M643.93 498.24L641.72 499.35L640.62 500.45L639.51 502.66L639.51 507.08L640.62 509.29L641.72 510.39L643.93 511.5M648.35 511.5L650.56 510.39L651.67 509.29L652.77 507.08L652.77 502.66L651.67 500.45L650.56 499.35L648.35 498.24" stroke="#000" stroke-width="2.2"/>
<path d="M766.18 497.13L761.76 511.5M766.18 497.13L762.87 511.5M772.81 497.13L772.81 511.5M772.81 497.13L773.92 511.5M758.45 499.35L760.66 497.13L763.97 496.03L778.34 496.03M758.45 499.35L760.66 498.24L763.97 497.13L778.34 497.13M802.65 483.88L782.76 519.24M808.84 492.71L809.94 493.82L808.84 494.93L807.73 493.82L807.73 492.71L808.84 490.5L809.94 489.4L813.25 488.3L817.68 488.3L820.99 489.4L822.1 490.5L823.2 492.71L823.2 494.93L822.1 497.13L818.78 499.35L813.25 501.56L811.05 502.66L808.84 504.87L807.73 508.19L807.73 511.5M817.68 488.3L819.88 489.4L820.99 490.5L822.1 492.71L822.1 494.93L820.99 497.13L817.68 499.35L813.25 501.56M807.73 509.29L808.84 508.19L811.05 508.19L816.57 510.39L819.88 510.39L822.1 509.29L823.2 508.19M811.05 508.19L816.57 511.5L820.99 511.5L822.1 510.39L823.2 508.19L823.2 505.98" stroke="#000" stroke-width="2.2"/>
<path d="M547.57 658.93L539.95 694.49M548.84 658.93L538.68 694.49M542.49 667.82L537.41 669.09L534.87 671.63L533.6 675.44L533.6 679.25L534.87 681.79L537.41 684.33L541.22 685.6L545.03 685.6L550.11 684.33L552.65 681.79L553.92 677.98L553.92 674.17L552.65 671.63L550.11 669.09L546.3 667.82L542.49 667.82M542.49 667.82L538.68 669.09L536.14 671.63L534.87 675.44L534.87 679.25L536.14 681.79L538.68 684.33L541.22 685.6M545.03 685.6L548.84 684.33L551.38 681.79L552.65 677.98L552.65 674.17L551.38 671.63L548.84 669.09L546.3 667.82M566.34 679.1L561.62 695.63M567.13 679.1L562.4 695.63M563.98 679.1L572.64 679.1L575 679.88L575.79 681.46L575.79 683.03L575 685.4L574.21 686.18L571.85 686.97M572.64 679.1L574.21 679.88L575 681.46L575 683.03L574.21 685.4L573.43 686.18L571.85 686.97M564.77 686.97L571.85 686.97L573.43 687.76L574.21 689.33L574.21 690.91L573.43 693.27L571.85 694.85L568.7 695.63L559.25 695.63M571.85 686.97L572.64 687.76L573.43 689.33L573.43 690.91L572.64 693.27L571.07 694.85L568.7 695.63M589.33 653.85L586.79 656.39L584.25 660.2L581.71 665.28L580.44 671.63L580.44 676.71L581.71 683.06L584.25 688.14L586.79 691.95L589.33 694.49M586.79 656.39L584.25 661.47L582.98 665.28L581.71 671.63L581.71 676.71L582.98 683.06L584.25 686.87L586.79 691.95M616.51 667.82L615.24 670.36L612.7 672.9L602.54 680.52L600 683.06L598.73 685.6M600 672.9L601.27 670.36L603.81 667.82L607.62 667.82L612.7 670.36M601.27 670.36L603.81 669.09L607.62 669.09L612.7 670.36L615.24 670.36M600 683.06L602.54 683.06L607.62 684.33L611.43 684.33L613.97 683.06M602.54 683.06L607.62 685.6L611.43 685.6L613.97 683.06L615.24 680.52M622.6 653.85L625.14 656.39L627.68 660.2L630.22 665.28L631.49 671.63L631.49 676.71L630.22 683.06L627.68 688.14L625.14 691.95L622.6 694.49M625.14 656.39L627.68 661.47L628.95 665.28L630.22 671.63L630.22 676.71L628.95 683.06L627.68 686.87L625.14 691.95" stroke="#1c00e2" stroke-width="1.8"/>
<path d="M181.87 727.93L174.25 763.49M183.14 727.93L172.98 763.49M176.79 736.82L171.71 738.09L169.17 740.63L167.9 744.44L167.9 748.25L169.17 750.79L171.71 753.33L175.52 754.6L179.33 754.6L184.41 753.33L186.95 750.79L188.22 746.98L188.22 743.17L186.95 740.63L184.41 738.09L180.6 736.82L176.79 736.82M176.79 736.82L172.98 738.09L170.44 740.63L169.17 744.44L169.17 748.25L170.44 750.79L172.98 753.33L175.52 754.6M179.33 754.6L183.14 753.33L185.68 750.79L186.95 746.98L186.95 743.17L185.68 740.63L183.14 738.09L180.6 736.82M202.27 748.1L192.03 764.63M202.27 748.1L203.05 764.63M201.48 749.67L202.27 764.63M195.18 759.91L202.27 759.91M190.46 764.63L195.18 764.63M199.9 764.63L204.63 764.63M220.61 722.85L218.06 725.39L215.53 729.2L212.99 734.28L211.72 740.63L211.72 745.71L212.99 752.06L215.53 757.14L218.06 760.95L220.61 763.49M218.06 725.39L215.53 730.47L214.25 734.28L212.99 740.63L212.99 745.71L214.25 752.06L215.53 755.87L218.06 760.95M247.27 736.82L246 739.36L243.47 741.9L233.3 749.52L230.76 752.06L229.5 754.6M230.76 741.9L232.03 739.36L234.57 736.82L238.38 736.82L243.47 739.36M232.03 739.36L234.57 738.09L238.38 738.09L243.47 739.36L246 739.36M230.76 752.06L233.3 752.06L238.38 753.33L242.19 753.33L244.73 752.06M233.3 752.06L238.38 754.6L242.19 754.6L244.73 752.06L246 749.52M253.18 722.85L255.72 725.39L258.26 729.2L260.8 734.28L262.07 740.63L262.07 745.71L260.8 752.06L258.26 757.14L255.72 760.95L253.18 763.49M255.72 725.39L258.26 730.47L259.53 734.28L260.8 740.63L260.8 745.71L259.53 752.06L258.26 755.87L255.72 760.95" stroke="#000" stroke-width="1.8"/>
<path d="M560.87 838.33L553.25 873.89M562.14 838.33L551.98 873.89M555.79 847.22L550.71 848.49L548.17 851.03L546.9 854.84L546.9 858.65L548.17 861.19L550.71 863.73L554.52 865L558.33 865L563.41 863.73L565.95 861.19L567.22 857.38L567.22 853.57L565.95 851.03L563.41 848.49L559.6 847.22L555.79 847.22M555.79 847.22L551.98 848.49L549.44 851.03L548.17 854.84L548.17 858.65L549.44 861.19L551.98 863.73L554.52 865M558.33 865L562.14 863.73L564.68 861.19L565.95 857.38L565.95 853.57L564.68 851.03L562.14 848.49L559.6 847.22M583.48 858.5L579.54 871.88L578.75 873.46L577.96 874.25L576.39 875.03L574.81 875.03L573.24 874.25L572.45 872.67L572.45 871.1L573.24 870.31L574.03 871.1L573.24 871.88M582.69 858.5L578.75 871.88L577.96 873.46L576.39 875.03M580.33 858.5L585.84 858.5M598.67 833.25L596.13 835.79L593.59 839.6L591.05 844.68L589.78 851.03L589.78 856.11L591.05 862.46L593.59 867.54L596.13 871.35L598.67 873.89M596.13 835.79L593.59 840.87L592.32 844.68L591.05 851.03L591.05 856.11L592.32 862.46L593.59 866.27L596.13 871.35M624.83 847.22L623.56 849.76L621.02 852.3L610.86 859.92L608.32 862.46L607.05 865M608.32 852.3L609.59 849.76L612.13 847.22L615.94 847.22L621.02 849.76M609.59 849.76L612.13 848.49L615.94 848.49L621.02 849.76L623.56 849.76M608.32 862.46L610.86 862.46L615.94 863.73L619.75 863.73L622.29 862.46M610.86 862.46L615.94 865L619.75 865L622.29 862.46L623.56 859.92M631.56 833.25L634.1 835.79L636.64 839.6L639.18 844.68L640.45 851.03L640.45 856.11L639.18 862.46L636.64 867.54L634.1 871.35L631.56 873.89M634.1 835.79L636.64 840.87L637.91 844.68L639.18 851.03L639.18 856.11L637.91 862.46L636.64 866.27L634.1 871.35" stroke="#ff2a00" stroke-width="1.8"/>
<path d="M726.39 545.75L723.85 548.29L721.31 552.1L718.77 557.18L717.5 563.53L717.5 568.61L718.77 574.96L721.31 580.04L723.85 583.85L726.39 586.39M723.85 548.29L721.31 553.37L720.04 557.18L718.77 563.53L718.77 568.61L720.04 574.96L721.31 578.77L723.85 583.85M736.55 550.83L736.55 577.5M737.82 550.83L737.82 577.5M737.82 563.53L740.36 560.99L742.9 559.72L745.44 559.72L749.25 560.99L751.79 563.53L753.06 567.34L753.06 569.88L751.79 573.69L749.25 576.23L745.44 577.5L742.9 577.5L740.36 576.23L737.82 573.69M745.44 559.72L747.98 560.99L750.52 563.53L751.79 567.34L751.79 569.88L750.52 573.69L747.98 576.23L745.44 577.5M732.74 550.83L737.82 550.83M760.68 545.75L763.22 548.29L765.76 552.1L768.3 557.18L769.57 563.53L769.57 568.61L768.3 574.96L765.76 580.04L763.22 583.85L760.68 586.39M763.22 548.29L765.76 553.37L767.03 557.18L768.3 563.53L768.3 568.61L767.03 574.96L765.76 578.77L763.22 583.85" stroke="#000" stroke-width="1.8"/>
<path d="M74.4 1437.9V1429.5M97.23 1437.9V1433.7M120.07 1437.9V1433.7M142.9 1437.9V1433.7M165.74 1437.9V1429.5M188.57 1437.9V1433.7M211.4 1437.9V1433.7M234.24 1437.9V1433.7M257.07 1437.9V1429.5M279.91 1437.9V1433.7M302.74 1437.9V1433.7M325.57 1437.9V1433.7M348.41 1437.9V1429.5M371.24 1437.9V1433.7M394.08 1437.9V1433.7M416.91 1437.9V1433.7M439.74 1437.9V1429.5M462.58 1437.9V1433.7M485.41 1437.9V1433.7M508.25 1437.9V1433.7M531.08 1437.9V1429.5M553.91 1437.9V1433.7M576.75 1437.9V1433.7M599.58 1437.9V1433.7M622.42 1437.9V1429.5M645.25 1437.9V1433.7M668.08 1437.9V1433.7M690.92 1437.9V1433.7M713.75 1437.9V1429.5M736.58 1437.9V1433.7M759.42 1437.9V1433.7M782.25 1437.9V1433.7M74.4 1043V1051.4M253.74 1043V1051.4M433.08 1043V1051.4M612.41 1043V1051.4M791.75 1043V1051.4M74.4 1437.9H88.6M791.75 1437.9H777.55M74.4 1431.33H81.4M791.75 1431.33H784.75M74.4 1424.75H81.4M791.75 1424.75H784.75M74.4 1418.18H81.4M791.75 1418.18H784.75M74.4 1411.6H81.4M791.75 1411.6H784.75M74.4 1405.03H81.4M791.75 1405.03H784.75M74.4 1398.45H81.4M791.75 1398.45H784.75M74.4 1391.88H81.4M791.75 1391.88H784.75M74.4 1385.3H81.4M791.75 1385.3H784.75M74.4 1378.73H81.4M791.75 1378.73H784.75M74.4 1372.15H88.6M791.75 1372.15H777.55M74.4 1365.58H81.4M791.75 1365.58H784.75M74.4 1359H81.4M791.75 1359H784.75M74.4 1352.43H81.4M791.75 1352.43H784.75M74.4 1345.85H81.4M791.75 1345.85H784.75M74.4 1339.28H81.4M791.75 1339.28H784.75M74.4 1332.7H81.4M791.75 1332.7H784.75M74.4 1326.12H81.4M791.75 1326.12H784.75M74.4 1319.55H81.4M791.75 1319.55H784.75M74.4 1312.98H81.4M791.75 1312.98H784.75M74.4 1306.4H88.6M791.75 1306.4H777.55M74.4 1299.83H81.4M791.75 1299.83H784.75M74.4 1293.25H81.4M791.75 1293.25H784.75M74.4 1286.68H81.4M791.75 1286.68H784.75M74.4 1280.1H81.4M791.75 1280.1H784.75M74.4 1273.53H81.4M791.75 1273.53H784.75M74.4 1266.95H81.4M791.75 1266.95H784.75M74.4 1260.38H81.4M791.75 1260.38H784.75M74.4 1253.8H81.4M791.75 1253.8H784.75M74.4 1247.23H81.4M791.75 1247.23H784.75M74.4 1240.65H88.6M791.75 1240.65H777.55M74.4 1234.08H81.4M791.75 1234.08H784.75M74.4 1227.5H81.4M791.75 1227.5H784.75M74.4 1220.93H81.4M791.75 1220.93H784.75M74.4 1214.35H81.4M791.75 1214.35H784.75M74.4 1207.78H81.4M791.75 1207.78H784.75M74.4 1201.2H81.4M791.75 1201.2H784.75M74.4 1194.62H81.4M791.75 1194.62H784.75M74.4 1188.05H81.4M791.75 1188.05H784.75M74.4 1181.48H81.4M791.75 1181.48H784.75M74.4 1174.9H88.6M791.75 1174.9H777.55M74.4 1168.33H81.4M791.75 1168.33H784.75M74.4 1161.75H81.4M791.75 1161.75H784.75M74.4 1155.18H81.4M791.75 1155.18H784.75M74.4 1148.6H81.4M791.75 1148.6H784.75M74.4 1142.03H81.4M791.75 1142.03H784.75M74.4 1135.45H81.4M791.75 1135.45H784.75M74.4 1128.88H81.4M791.75 1128.88H784.75M74.4 1122.3H81.4M791.75 1122.3H784.75M74.4 1115.73H81.4M791.75 1115.73H784.75M74.4 1109.15H88.6M791.75 1109.15H777.55M74.4 1102.58H81.4M791.75 1102.58H784.75M74.4 1096H81.4M791.75 1096H784.75M74.4 1089.43H81.4M791.75 1089.43H784.75M74.4 1082.85H81.4M791.75 1082.85H784.75M74.4 1076.28H81.4M791.75 1076.28H784.75M74.4 1069.7H81.4M791.75 1069.7H784.75M74.4 1063.12H81.4M791.75 1063.12H784.75M74.4 1056.55H81.4M791.75 1056.55H784.75M74.4 1049.98H81.4M791.75 1049.98H784.75M74.4 1043.4H88.6M791.75 1043.4H777.55" stroke="#000" stroke-width="1.8" stroke-linecap="butt"/>
<rect x="74.4" y="1043" width="717.35" height="394.9" stroke="#000" stroke-width="2"/>
<path d="M55.92 1464.9L52.61 1466L50.4 1469.32L49.29 1474.84L49.29 1478.16L50.4 1483.68L52.61 1487L55.92 1488.1L58.13 1488.1L61.45 1487L63.66 1483.68L64.76 1478.16L64.76 1474.84L63.66 1469.32L61.45 1466L58.13 1464.9L55.92 1464.9M55.92 1464.9L53.71 1466L52.61 1467.11L51.5 1469.32L50.4 1474.84L50.4 1478.16L51.5 1483.68L52.61 1485.89L53.71 1487L55.92 1488.1M58.13 1488.1L60.34 1487L61.45 1485.89L62.55 1483.68L63.66 1478.16L63.66 1474.84L62.55 1469.32L61.45 1467.11L60.34 1466L58.13 1464.9M73.6 1485.89L72.5 1487L73.6 1488.1L74.71 1487L73.6 1485.89M89.07 1464.9L85.76 1466L83.55 1469.32L82.44 1474.84L82.44 1478.16L83.55 1483.68L85.76 1487L89.07 1488.1L91.28 1488.1L94.6 1487L96.81 1483.68L97.91 1478.16L97.91 1474.84L96.81 1469.32L94.6 1466L91.28 1464.9L89.07 1464.9M89.07 1464.9L86.86 1466L85.76 1467.11L84.65 1469.32L83.55 1474.84L83.55 1478.16L84.65 1483.68L85.76 1485.89L86.86 1487L89.07 1488.1M91.28 1488.1L93.49 1487L94.6 1485.89L95.7 1483.68L96.81 1478.16L96.81 1474.84L95.7 1469.32L94.6 1467.11L93.49 1466L91.28 1464.9" stroke="#000" stroke-width="2.2"/>
<path d="M147.26 1464.9L143.94 1466L141.73 1469.32L140.63 1474.84L140.63 1478.16L141.73 1483.68L143.94 1487L147.26 1488.1L149.47 1488.1L152.78 1487L154.99 1483.68L156.1 1478.16L156.1 1474.84L154.99 1469.32L152.78 1466L149.47 1464.9L147.26 1464.9M147.26 1464.9L145.05 1466L143.94 1467.11L142.84 1469.32L141.73 1474.84L141.73 1478.16L142.84 1483.68L143.94 1485.89L145.05 1487L147.26 1488.1M149.47 1488.1L151.68 1487L152.78 1485.89L153.89 1483.68L154.99 1478.16L154.99 1474.84L153.89 1469.32L152.78 1467.11L151.68 1466L149.47 1464.9M164.94 1485.89L163.83 1487L164.94 1488.1L166.04 1487L164.94 1485.89M174.88 1469.32L175.99 1470.42L174.88 1471.53L173.78 1470.42L173.78 1469.32L174.88 1467.11L175.99 1466L179.3 1464.9L183.72 1464.9L187.04 1466L188.14 1467.11L189.25 1469.32L189.25 1471.53L188.14 1473.74L184.83 1475.95L179.3 1478.16L177.09 1479.26L174.88 1481.47L173.78 1484.79L173.78 1488.1M183.72 1464.9L185.93 1466L187.04 1467.11L188.14 1469.32L188.14 1471.53L187.04 1473.74L183.72 1475.95L179.3 1478.16M173.78 1485.89L174.88 1484.79L177.09 1484.79L182.62 1487L185.93 1487L188.14 1485.89L189.25 1484.79M177.09 1484.79L182.62 1488.1L187.04 1488.1L188.14 1487L189.25 1484.79L189.25 1482.58" stroke="#000" stroke-width="2.2"/>
<path d="M238.59 1464.9L235.28 1466L233.07 1469.32L231.96 1474.84L231.96 1478.16L233.07 1483.68L235.28 1487L238.59 1488.1L240.8 1488.1L244.12 1487L246.33 1483.68L247.43 1478.16L247.43 1474.84L246.33 1469.32L244.12 1466L240.8 1464.9L238.59 1464.9M238.59 1464.9L236.38 1466L235.28 1467.11L234.17 1469.32L233.07 1474.84L233.07 1478.16L234.17 1483.68L235.28 1485.89L236.38 1487L238.59 1488.1M240.8 1488.1L243.01 1487L244.12 1485.89L245.22 1483.68L246.33 1478.16L246.33 1474.84L245.22 1469.32L244.12 1467.11L243.01 1466L240.8 1464.9M256.27 1485.89L255.17 1487L256.27 1488.1L257.38 1487L256.27 1485.89M275.06 1467.11L275.06 1488.1M276.16 1464.9L276.16 1488.1M276.16 1464.9L264.01 1481.47L281.69 1481.47M271.74 1488.1L279.48 1488.1" stroke="#000" stroke-width="2.2"/>
<path d="M329.93 1464.9L326.61 1466L324.4 1469.32L323.3 1474.84L323.3 1478.16L324.4 1483.68L326.61 1487L329.93 1488.1L332.14 1488.1L335.45 1487L337.66 1483.68L338.77 1478.16L338.77 1474.84L337.66 1469.32L335.45 1466L332.14 1464.9L329.93 1464.9M329.93 1464.9L327.72 1466L326.61 1467.11L325.51 1469.32L324.4 1474.84L324.4 1478.16L325.51 1483.68L326.61 1485.89L327.72 1487L329.93 1488.1M332.14 1488.1L334.35 1487L335.45 1485.89L336.56 1483.68L337.66 1478.16L337.66 1474.84L336.56 1469.32L335.45 1467.11L334.35 1466L332.14 1464.9M347.61 1485.89L346.5 1487L347.61 1488.1L348.71 1487L347.61 1485.89M369.71 1468.21L368.6 1469.32L369.71 1470.42L370.81 1469.32L370.81 1468.21L369.71 1466L367.5 1464.9L364.18 1464.9L360.87 1466L358.66 1468.21L357.55 1470.42L356.45 1474.84L356.45 1481.47L357.55 1484.79L359.76 1487L363.08 1488.1L365.29 1488.1L368.6 1487L370.81 1484.79L371.92 1481.47L371.92 1480.37L370.81 1477.05L368.6 1474.84L365.29 1473.74L364.18 1473.74L360.87 1474.84L358.66 1477.05L357.55 1480.37M364.18 1464.9L361.97 1466L359.76 1468.21L358.66 1470.42L357.55 1474.84L357.55 1481.47L358.66 1484.79L360.87 1487L363.08 1488.1M365.29 1488.1L367.5 1487L369.71 1484.79L370.81 1481.47L370.81 1480.37L369.71 1477.05L367.5 1474.84L365.29 1473.74" stroke="#000" stroke-width="2.2"/>
<path d="M421.26 1464.9L417.95 1466L415.74 1469.32L414.63 1474.84L414.63 1478.16L415.74 1483.68L417.95 1487L421.26 1488.1L423.47 1488.1L426.79 1487L429 1483.68L430.1 1478.16L430.1 1474.84L429 1469.32L426.79 1466L423.47 1464.9L421.26 1464.9M421.26 1464.9L419.05 1466L417.95 1467.11L416.84 1469.32L415.74 1474.84L415.74 1478.16L416.84 1483.68L417.95 1485.89L419.05 1487L421.26 1488.1M423.47 1488.1L425.68 1487L426.79 1485.89L427.89 1483.68L429 1478.16L429 1474.84L427.89 1469.32L426.79 1467.11L425.68 1466L423.47 1464.9M438.94 1485.89L437.84 1487L438.94 1488.1L440.05 1487L438.94 1485.89M453.31 1464.9L449.99 1466L448.89 1468.21L448.89 1471.53L449.99 1473.74L453.31 1474.84L457.73 1474.84L461.04 1473.74L462.15 1471.53L462.15 1468.21L461.04 1466L457.73 1464.9L453.31 1464.9M453.31 1464.9L451.1 1466L449.99 1468.21L449.99 1471.53L451.1 1473.74L453.31 1474.84M457.73 1474.84L459.94 1473.74L461.04 1471.53L461.04 1468.21L459.94 1466L457.73 1464.9M453.31 1474.84L449.99 1475.95L448.89 1477.05L447.78 1479.26L447.78 1483.68L448.89 1485.89L449.99 1487L453.31 1488.1L457.73 1488.1L461.04 1487L462.15 1485.89L463.25 1483.68L463.25 1479.26L462.15 1477.05L461.04 1475.95L457.73 1474.84M453.31 1474.84L451.1 1475.95L449.99 1477.05L448.89 1479.26L448.89 1483.68L449.99 1485.89L451.1 1487L453.31 1488.1M457.73 1488.1L459.94 1487L461.04 1485.89L462.15 1483.68L462.15 1479.26L461.04 1477.05L459.94 1475.95L457.73 1474.84" stroke="#000" stroke-width="2.2"/>
<path d="M509.28 1469.32L511.49 1468.21L514.81 1464.9L514.81 1488.1M513.7 1466L513.7 1488.1M509.28 1488.1L519.23 1488.1M530.28 1485.89L529.17 1487L530.28 1488.1L531.38 1487L530.28 1485.89M545.75 1464.9L542.43 1466L540.22 1469.32L539.12 1474.84L539.12 1478.16L540.22 1483.68L542.43 1487L545.75 1488.1L547.96 1488.1L551.27 1487L553.48 1483.68L554.59 1478.16L554.59 1474.84L553.48 1469.32L551.27 1466L547.96 1464.9L545.75 1464.9M545.75 1464.9L543.54 1466L542.43 1467.11L541.33 1469.32L540.22 1474.84L540.22 1478.16L541.33 1483.68L542.43 1485.89L543.54 1487L545.75 1488.1M547.96 1488.1L550.17 1487L551.27 1485.89L552.38 1483.68L553.48 1478.16L553.48 1474.84L552.38 1469.32L551.27 1467.11L550.17 1466L547.96 1464.9" stroke="#000" stroke-width="2.2"/>
<path d="M600.62 1469.32L602.83 1468.21L606.15 1464.9L606.15 1488.1M605.04 1466L605.04 1488.1M600.62 1488.1L610.57 1488.1M621.62 1485.89L620.51 1487L621.62 1488.1L622.72 1487L621.62 1485.89M631.56 1469.32L632.67 1470.42L631.56 1471.53L630.46 1470.42L630.46 1469.32L631.56 1467.11L632.67 1466L635.98 1464.9L640.4 1464.9L643.72 1466L644.82 1467.11L645.93 1469.32L645.93 1471.53L644.82 1473.74L641.51 1475.95L635.98 1478.16L633.77 1479.26L631.56 1481.47L630.46 1484.79L630.46 1488.1M640.4 1464.9L642.61 1466L643.72 1467.11L644.82 1469.32L644.82 1471.53L643.72 1473.74L640.4 1475.95L635.98 1478.16M630.46 1485.89L631.56 1484.79L633.77 1484.79L639.3 1487L642.61 1487L644.82 1485.89L645.93 1484.79M633.77 1484.79L639.3 1488.1L643.72 1488.1L644.82 1487L645.93 1484.79L645.93 1482.58" stroke="#000" stroke-width="2.2"/>
<path d="M691.96 1469.32L694.17 1468.21L697.48 1464.9L697.48 1488.1M696.38 1466L696.38 1488.1M691.96 1488.1L701.9 1488.1M712.95 1485.89L711.85 1487L712.95 1488.1L714.06 1487L712.95 1485.89M731.74 1467.11L731.74 1488.1M732.84 1464.9L732.84 1488.1M732.84 1464.9L720.69 1481.47L738.37 1481.47M728.42 1488.1L736.16 1488.1" stroke="#000" stroke-width="2.2"/>
<path d="M16.99 1043.39L13.68 1044.5L11.47 1047.81L10.36 1053.34L10.36 1056.65L11.47 1062.18L13.68 1065.49L16.99 1066.6L19.2 1066.6L22.52 1065.49L24.73 1062.18L25.83 1056.65L25.83 1053.34L24.73 1047.81L22.52 1044.5L19.2 1043.39L16.99 1043.39M16.99 1043.39L14.78 1044.5L13.68 1045.61L12.57 1047.81L11.47 1053.34L11.47 1056.65L12.57 1062.18L13.68 1064.39L14.78 1065.49L16.99 1066.6M19.2 1066.6L21.41 1065.49L22.52 1064.39L23.62 1062.18L24.73 1056.65L24.73 1053.34L23.62 1047.81L22.52 1045.61L21.41 1044.5L19.2 1043.39M34.67 1064.39L33.57 1065.49L34.67 1066.6L35.78 1065.49L34.67 1064.39M56.77 1046.71L55.67 1047.81L56.77 1048.92L57.88 1047.81L57.88 1046.71L56.77 1044.5L54.56 1043.39L51.25 1043.39L47.94 1044.5L45.73 1046.71L44.62 1048.92L43.52 1053.34L43.52 1059.97L44.62 1063.28L46.83 1065.49L50.15 1066.6L52.35 1066.6L55.67 1065.49L57.88 1063.28L58.98 1059.97L58.98 1058.87L57.88 1055.55L55.67 1053.34L52.35 1052.23L51.25 1052.23L47.94 1053.34L45.73 1055.55L44.62 1058.87M51.25 1043.39L49.04 1044.5L46.83 1046.71L45.73 1048.92L44.62 1053.34L44.62 1059.97L45.73 1063.28L47.94 1065.49L50.15 1066.6M52.35 1066.6L54.56 1065.49L56.77 1063.28L57.88 1059.97L57.88 1058.87L56.77 1055.55L54.56 1053.34L52.35 1052.23" stroke="#000" stroke-width="2.2"/>
<path d="M16.99 1098.85L13.68 1099.95L11.47 1103.27L10.36 1108.79L10.36 1112.11L11.47 1117.63L13.68 1120.95L16.99 1122.05L19.2 1122.05L22.52 1120.95L24.73 1117.63L25.83 1112.11L25.83 1108.79L24.73 1103.27L22.52 1099.95L19.2 1098.85L16.99 1098.85M16.99 1098.85L14.78 1099.95L13.68 1101.06L12.57 1103.27L11.47 1108.79L11.47 1112.11L12.57 1117.63L13.68 1119.84L14.78 1120.95L16.99 1122.05M19.2 1122.05L21.41 1120.95L22.52 1119.84L23.62 1117.63L24.73 1112.11L24.73 1108.79L23.62 1103.27L22.52 1101.06L21.41 1099.95L19.2 1098.85M34.67 1119.84L33.57 1120.95L34.67 1122.05L35.78 1120.95L34.67 1119.84M45.73 1098.85L43.52 1109.9M43.52 1109.9L45.73 1107.69L49.04 1106.58L52.35 1106.58L55.67 1107.69L57.88 1109.9L58.98 1113.21L58.98 1115.42L57.88 1118.74L55.67 1120.95L52.35 1122.05L49.04 1122.05L45.73 1120.95L44.62 1119.84L43.52 1117.63L43.52 1116.53L44.62 1115.42L45.73 1116.53L44.62 1117.63M52.35 1106.58L54.56 1107.69L56.77 1109.9L57.88 1113.21L57.88 1115.42L56.77 1118.74L54.56 1120.95L52.35 1122.05M45.73 1098.85L56.77 1098.85M45.73 1099.95L51.25 1099.95L56.77 1098.85" stroke="#000" stroke-width="2.2"/>
<path d="M16.99 1164.6L13.68 1165.7L11.47 1169.02L10.36 1174.54L10.36 1177.86L11.47 1183.38L13.68 1186.7L16.99 1187.8L19.2 1187.8L22.52 1186.7L24.73 1183.38L25.83 1177.86L25.83 1174.54L24.73 1169.02L22.52 1165.7L19.2 1164.6L16.99 1164.6M16.99 1164.6L14.78 1165.7L13.68 1166.81L12.57 1169.02L11.47 1174.54L11.47 1177.86L12.57 1183.38L13.68 1185.59L14.78 1186.7L16.99 1187.8M19.2 1187.8L21.41 1186.7L22.52 1185.59L23.62 1183.38L24.73 1177.86L24.73 1174.54L23.62 1169.02L22.52 1166.81L21.41 1165.7L19.2 1164.6M34.67 1185.59L33.57 1186.7L34.67 1187.8L35.78 1186.7L34.67 1185.59M53.46 1166.81L53.46 1187.8M54.56 1164.6L54.56 1187.8M54.56 1164.6L42.41 1181.17L60.09 1181.17M50.15 1187.8L57.88 1187.8" stroke="#000" stroke-width="2.2"/>
<path d="M16.99 1230.35L13.68 1231.45L11.47 1234.77L10.36 1240.29L10.36 1243.61L11.47 1249.13L13.68 1252.45L16.99 1253.55L19.2 1253.55L22.52 1252.45L24.73 1249.13L25.83 1243.61L25.83 1240.29L24.73 1234.77L22.52 1231.45L19.2 1230.35L16.99 1230.35M16.99 1230.35L14.78 1231.45L13.68 1232.56L12.57 1234.77L11.47 1240.29L11.47 1243.61L12.57 1249.13L13.68 1251.34L14.78 1252.45L16.99 1253.55M19.2 1253.55L21.41 1252.45L22.52 1251.34L23.62 1249.13L24.73 1243.61L24.73 1240.29L23.62 1234.77L22.52 1232.56L21.41 1231.45L19.2 1230.35M34.67 1251.34L33.57 1252.45L34.67 1253.55L35.78 1252.45L34.67 1251.34M44.62 1234.77L45.73 1235.87L44.62 1236.98L43.52 1235.87L43.52 1234.77L44.62 1232.56L45.73 1231.45L49.04 1230.35L53.46 1230.35L56.77 1231.45L57.88 1233.66L57.88 1236.98L56.77 1239.19L53.46 1240.29L50.15 1240.29M53.46 1230.35L55.67 1231.45L56.77 1233.66L56.77 1236.98L55.67 1239.19L53.46 1240.29M53.46 1240.29L55.67 1241.4L57.88 1243.61L58.98 1245.82L58.98 1249.13L57.88 1251.34L56.77 1252.45L53.46 1253.55L49.04 1253.55L45.73 1252.45L44.62 1251.34L43.52 1249.13L43.52 1248.03L44.62 1246.92L45.73 1248.03L44.62 1249.13M56.77 1242.5L57.88 1245.82L57.88 1249.13L56.77 1251.34L55.67 1252.45L53.46 1253.55" stroke="#000" stroke-width="2.2"/>
<path d="M16.99 1296.1L13.68 1297.2L11.47 1300.52L10.36 1306.04L10.36 1309.36L11.47 1314.88L13.68 1318.2L16.99 1319.3L19.2 1319.3L22.52 1318.2L24.73 1314.88L25.83 1309.36L25.83 1306.04L24.73 1300.52L22.52 1297.2L19.2 1296.1L16.99 1296.1M16.99 1296.1L14.78 1297.2L13.68 1298.31L12.57 1300.52L11.47 1306.04L11.47 1309.36L12.57 1314.88L13.68 1317.09L14.78 1318.2L16.99 1319.3M19.2 1319.3L21.41 1318.2L22.52 1317.09L23.62 1314.88L24.73 1309.36L24.73 1306.04L23.62 1300.52L22.52 1298.31L21.41 1297.2L19.2 1296.1M34.67 1317.09L33.57 1318.2L34.67 1319.3L35.78 1318.2L34.67 1317.09M44.62 1300.52L45.73 1301.62L44.62 1302.73L43.52 1301.62L43.52 1300.52L44.62 1298.31L45.73 1297.2L49.04 1296.1L53.46 1296.1L56.77 1297.2L57.88 1298.31L58.98 1300.52L58.98 1302.73L57.88 1304.94L54.56 1307.15L49.04 1309.36L46.83 1310.46L44.62 1312.67L43.52 1315.99L43.52 1319.3M53.46 1296.1L55.67 1297.2L56.77 1298.31L57.88 1300.52L57.88 1302.73L56.77 1304.94L53.46 1307.15L49.04 1309.36M43.52 1317.09L44.62 1315.99L46.83 1315.99L52.35 1318.2L55.67 1318.2L57.88 1317.09L58.98 1315.99M46.83 1315.99L52.35 1319.3L56.77 1319.3L57.88 1318.2L58.98 1315.99L58.98 1313.78" stroke="#000" stroke-width="2.2"/>
<path d="M16.99 1361.85L13.68 1362.95L11.47 1366.27L10.36 1371.79L10.36 1375.11L11.47 1380.63L13.68 1383.95L16.99 1385.05L19.2 1385.05L22.52 1383.95L24.73 1380.63L25.83 1375.11L25.83 1371.79L24.73 1366.27L22.52 1362.95L19.2 1361.85L16.99 1361.85M16.99 1361.85L14.78 1362.95L13.68 1364.06L12.57 1366.27L11.47 1371.79L11.47 1375.11L12.57 1380.63L13.68 1382.84L14.78 1383.95L16.99 1385.05M19.2 1385.05L21.41 1383.95L22.52 1382.84L23.62 1380.63L24.73 1375.11L24.73 1371.79L23.62 1366.27L22.52 1364.06L21.41 1362.95L19.2 1361.85M34.67 1382.84L33.57 1383.95L34.67 1385.05L35.78 1383.95L34.67 1382.84M46.83 1366.27L49.04 1365.16L52.35 1361.85L52.35 1385.05M51.25 1362.95L51.25 1385.05M46.83 1385.05L56.77 1385.05" stroke="#000" stroke-width="2.2"/>
<path d="M16.99 1414.89L13.68 1416L11.47 1419.31L10.36 1424.84L10.36 1428.15L11.47 1433.68L13.68 1436.99L16.99 1438.1L19.2 1438.1L22.52 1436.99L24.73 1433.68L25.83 1428.15L25.83 1424.84L24.73 1419.31L22.52 1416L19.2 1414.89L16.99 1414.89M16.99 1414.89L14.78 1416L13.68 1417.11L12.57 1419.31L11.47 1424.84L11.47 1428.15L12.57 1433.68L13.68 1435.89L14.78 1436.99L16.99 1438.1M19.2 1438.1L21.41 1436.99L22.52 1435.89L23.62 1433.68L24.73 1428.15L24.73 1424.84L23.62 1419.31L22.52 1417.11L21.41 1416L19.2 1414.89M34.67 1435.89L33.57 1436.99L34.67 1438.1L35.78 1436.99L34.67 1435.89M50.15 1414.89L46.83 1416L44.62 1419.31L43.52 1424.84L43.52 1428.15L44.62 1433.68L46.83 1436.99L50.15 1438.1L52.35 1438.1L55.67 1436.99L57.88 1433.68L58.98 1428.15L58.98 1424.84L57.88 1419.31L55.67 1416L52.35 1414.89L50.15 1414.89M50.15 1414.89L47.94 1416L46.83 1417.11L45.73 1419.31L44.62 1424.84L44.62 1428.15L45.73 1433.68L46.83 1435.89L47.94 1436.99L50.15 1438.1M52.35 1438.1L54.56 1436.99L55.67 1435.89L56.77 1433.68L57.88 1428.15L57.88 1424.84L56.77 1419.31L55.67 1417.11L54.56 1416L52.35 1414.89" stroke="#000" stroke-width="2.2"/>
<path clip-path="url(#cc)" d="M74.4 1437.9L76.19 1437.89L77.99 1437.84L79.78 1437.77L81.57 1437.67L83.37 1437.54L85.16 1437.38L86.95 1437.2L88.75 1436.98L90.54 1436.74L92.33 1436.47L94.13 1436.18L95.92 1435.85L97.71 1435.5L99.51 1435.12L101.3 1434.72L103.09 1434.28L104.89 1433.83L106.68 1433.34L108.47 1432.83L110.27 1432.29L112.06 1431.73L113.85 1431.14L115.65 1430.52L117.44 1429.88L119.23 1429.22L121.03 1428.53L122.82 1427.81L124.61 1427.07L126.41 1426.31L128.2 1425.52L129.99 1424.71L131.79 1423.88L133.58 1423.02L135.37 1422.13L137.17 1421.23L138.96 1420.3L140.75 1419.35L142.55 1418.38L144.34 1417.38L146.13 1416.36L147.93 1415.33L149.72 1414.27L151.52 1413.18L153.31 1412.08L155.1 1410.96L156.9 1409.81L158.69 1408.65L160.48 1407.46L162.28 1406.26L164.07 1405.04L165.86 1403.79L167.66 1402.53L169.45 1401.25L171.24 1399.95L173.04 1398.63L174.83 1397.29L176.62 1395.94L178.42 1394.57L180.21 1393.18L182 1391.77L183.8 1390.35L185.59 1388.91L187.38 1387.46L189.18 1385.99L190.97 1384.5L192.76 1383L194.56 1381.48L196.35 1379.95L198.14 1378.4L199.94 1376.84L201.73 1375.27L203.52 1373.68L205.32 1372.08L207.11 1370.46L208.9 1368.83L210.7 1367.19L212.49 1365.54L214.28 1363.88L216.08 1362.2L217.87 1360.51L219.66 1358.81L221.46 1357.1L223.25 1355.38L225.04 1353.65L226.84 1351.91L228.63 1350.16L230.42 1348.4L232.22 1346.63L234.01 1344.86L235.8 1343.07L237.6 1341.28L239.39 1339.48L241.18 1337.67L242.98 1335.85L244.77 1334.03L246.56 1332.2L248.36 1330.36L250.15 1328.52L251.94 1326.67L253.74 1324.82L255.53 1322.96L257.32 1321.1L259.12 1319.23L260.91 1317.36L262.7 1315.48L264.5 1313.6L266.29 1311.72L268.08 1309.84L269.88 1307.95L271.67 1306.06L273.46 1304.16L275.26 1302.27L277.05 1300.37L278.84 1298.48L280.64 1296.58L282.43 1294.68L284.22 1292.79L286.02 1290.89L287.81 1288.99L289.61 1287.09L291.4 1285.2L293.19 1283.3L294.99 1281.41L296.78 1279.52L298.57 1277.63L300.37 1275.75L302.16 1273.86L303.95 1271.98L305.75 1270.11L307.54 1268.23L309.33 1266.36L311.13 1264.5L312.92 1262.64L314.71 1260.79L316.51 1258.94L318.3 1257.09L320.09 1255.25L321.89 1253.42L323.68 1251.6L325.47 1249.78L327.27 1247.97L329.06 1246.16L330.85 1244.37L332.65 1242.58L334.44 1240.8L336.23 1239.02L338.03 1237.26L339.82 1235.5L341.61 1233.76L343.41 1232.02L345.2 1230.3L346.99 1228.58L348.79 1226.88L350.58 1225.18L352.37 1223.5L354.17 1221.83L355.96 1220.16L357.75 1218.52L359.55 1216.88L361.34 1215.25L363.13 1213.64L364.93 1212.04L366.72 1210.46L368.51 1208.88L370.31 1207.32L372.1 1205.78L373.89 1204.25L375.69 1202.73L377.48 1201.23L379.27 1199.74L381.07 1198.26L382.86 1196.81L384.65 1195.37L386.45 1193.94L388.24 1192.53L390.03 1191.14L391.83 1189.76L393.62 1188.4L395.41 1187.05L397.21 1185.73L399 1184.42L400.79 1183.13L402.59 1181.86L404.38 1180.6L406.17 1179.36L407.97 1178.15L409.76 1176.95L411.55 1175.76L413.35 1174.6L415.14 1173.46L416.93 1172.34L418.73 1171.24L420.52 1170.15L422.31 1169.09L424.11 1168.05L425.9 1167.02L427.69 1166.02L429.49 1165.04L431.28 1164.08L433.08 1163.14L434.87 1162.23L436.66 1161.33L438.46 1160.46L440.25 1159.61L442.04 1158.78L443.84 1157.97L445.63 1157.19L447.42 1156.42L449.22 1155.68L451.01 1154.97L452.8 1154.27L454.6 1153.6L456.39 1152.96L458.18 1152.33L459.98 1151.73L461.77 1151.15L463.56 1150.6L465.36 1150.07L467.15 1149.57L468.94 1149.09L470.74 1148.63L472.53 1148.2L474.32 1147.79L476.12 1147.41L477.91 1147.05L479.7 1146.72L481.5 1146.41L483.29 1146.13L485.08 1145.87L486.88 1145.64L488.67 1145.43L490.46 1145.25L492.26 1145.09L494.05 1144.96L495.84 1144.86L497.64 1144.78L499.43 1144.72L501.22 1144.7L503.02 1144.69L504.81 1144.72L506.6 1144.77L508.4 1144.84L510.19 1144.95L511.98 1145.07L513.78 1145.23L515.57 1145.41L517.36 1145.62L519.16 1145.85L520.95 1146.11L522.74 1146.4L524.54 1146.71L526.33 1147.05L528.12 1147.42L529.92 1147.81L531.71 1148.23L533.5 1148.67L535.3 1149.14L537.09 1149.64L538.88 1150.17L540.68 1150.72L542.47 1151.3L544.26 1151.9L546.06 1152.53L547.85 1153.19L549.64 1153.87L551.44 1154.58L553.23 1155.32L555.02 1156.08L556.82 1156.87L558.61 1157.68L560.4 1158.52L562.2 1159.39L563.99 1160.28L565.78 1161.2L567.58 1162.15L569.37 1163.12L571.16 1164.12L572.96 1165.14L574.75 1166.19L576.54 1167.27L578.34 1168.37L580.13 1169.49L581.93 1170.64L583.72 1171.82L585.51 1173.02L587.31 1174.25L589.1 1175.5L590.89 1176.78L592.69 1178.08L594.48 1179.41L596.27 1180.76L598.07 1182.14L599.86 1183.54L601.65 1184.97L603.45 1186.42L605.24 1187.89L607.03 1189.39L608.83 1190.91L610.62 1192.46L612.41 1194.03L614.21 1195.62L616 1197.24L617.79 1198.88L619.59 1200.54L621.38 1202.23L623.17 1203.94L624.97 1205.67L626.76 1207.43L628.55 1209.2L630.35 1211L632.14 1212.83L633.93 1214.67L635.73 1216.53L637.52 1218.42L639.31 1220.33L641.11 1222.26L642.9 1224.21L644.69 1226.18L646.49 1228.17L648.28 1230.19L650.07 1232.22L651.87 1234.27L653.66 1236.35L655.45 1238.44L657.25 1240.55L659.04 1242.68L660.83 1244.84L662.63 1247.01L664.42 1249.2L666.21 1251.4L668.01 1253.63L669.8 1255.88L671.59 1258.14L673.39 1260.42L675.18 1262.72L676.97 1265.03L678.77 1267.36L680.56 1269.71L682.35 1272.08L684.15 1274.46L685.94 1276.86L687.73 1279.27L689.53 1281.7L691.32 1284.15L693.11 1286.61L694.91 1289.09L696.7 1291.58L698.49 1294.08L700.29 1296.6L702.08 1299.13L703.87 1301.68L705.67 1304.24L707.46 1306.82L709.25 1309.4L711.05 1312L712.84 1314.62L714.63 1317.24L716.43 1319.88L718.22 1322.53L720.02 1325.19L721.81 1327.86L723.6 1330.54L725.4 1333.23L727.19 1335.94L728.98 1338.65L730.78 1341.38L732.57 1344.11L734.36 1346.85L736.16 1349.6L737.95 1352.36L739.74 1355.13L741.54 1357.91L743.33 1360.7L745.12 1363.49L746.92 1366.29L748.71 1369.1L750.5 1371.91L752.3 1374.73L754.09 1377.56L755.88 1380.4L757.68 1383.24L759.47 1386.08L761.26 1388.93L763.06 1391.79L764.85 1394.65L766.64 1397.51L768.44 1400.38L770.23 1403.25L772.02 1406.12L773.82 1409L775.61 1411.88L777.4 1414.77L779.2 1417.65L780.99 1420.54L782.78 1423.43L784.58 1426.32L786.37 1429.22L788.16 1432.11L789.96 1435.01L791.75 1437.9" stroke="#000" stroke-width="2" stroke-linecap="butt"/>
<path clip-path="url(#cc)" d="M74.4 1067.53L76.19 1068.35L77.99 1069.16L79.78 1069.98L81.57 1070.79L83.37 1071.61L85.16 1072.43L86.95 1073.24L88.75 1074.06L90.54 1074.88L92.33 1075.7L94.13 1076.52L95.92 1077.34L97.71 1078.16L99.51 1078.98L101.3 1079.8L103.09 1080.63L104.89 1081.45L106.68 1082.28L108.47 1083.11L110.27 1083.94L112.06 1084.77L113.85 1085.6L115.65 1086.44L117.44 1087.27L119.23 1088.11L121.03 1088.95L122.82 1089.79L124.61 1090.64L126.41 1091.48L128.2 1092.33L129.99 1093.18L131.79 1094.03L133.58 1094.89L135.37 1095.74L137.17 1096.6L138.96 1097.46L140.75 1098.33L142.55 1099.19L144.34 1100.06L146.13 1100.93L147.93 1101.8L149.72 1102.68L151.52 1103.56L153.31 1104.44L155.1 1105.33L156.9 1106.21L158.69 1107.1L160.48 1108L162.28 1108.89L164.07 1109.79L165.86 1110.7L167.66 1111.6L169.45 1112.51L171.24 1113.42L173.04 1114.34L174.83 1115.26L176.62 1116.18L178.42 1117.1L180.21 1118.03L182 1118.96L183.8 1119.9L185.59 1120.84L187.38 1121.78L189.18 1122.72L190.97 1123.67L192.76 1124.63L194.56 1125.58L196.35 1126.54L198.14 1127.51L199.94 1128.47L201.73 1129.44L203.52 1130.42L205.32 1131.4L207.11 1132.38L208.9 1133.36L210.7 1134.35L212.49 1135.35L214.28 1136.34L216.08 1137.34L217.87 1138.35L219.66 1139.36L221.46 1140.37L223.25 1141.39L225.04 1142.41L226.84 1143.43L228.63 1144.46L230.42 1145.49L232.22 1146.52L234.01 1147.56L235.8 1148.61L237.6 1149.65L239.39 1150.7L241.18 1151.76L242.98 1152.82L244.77 1153.88L246.56 1154.95L248.36 1156.02L250.15 1157.09L251.94 1158.17L253.74 1159.25L255.53 1160.33L257.32 1161.42L259.12 1162.52L260.91 1163.61L262.7 1164.71L264.5 1165.82L266.29 1166.93L268.08 1168.04L269.88 1169.15L271.67 1170.27L273.46 1171.4L275.26 1172.52L277.05 1173.65L278.84 1174.79L280.64 1175.93L282.43 1177.07L284.22 1178.21L286.02 1179.36L287.81 1180.51L289.61 1181.67L291.4 1182.83L293.19 1183.99L294.99 1185.16L296.78 1186.32L298.57 1187.5L300.37 1188.67L302.16 1189.85L303.95 1191.04L305.75 1192.22L307.54 1193.41L309.33 1194.6L311.13 1195.8L312.92 1197L314.71 1198.2L316.51 1199.4L318.3 1200.61L320.09 1201.82L321.89 1203.03L323.68 1204.25L325.47 1205.47L327.27 1206.69L329.06 1207.91L330.85 1209.14L332.65 1210.37L334.44 1211.6L336.23 1212.84L338.03 1214.08L339.82 1215.32L341.61 1216.56L343.41 1217.8L345.2 1219.05L346.99 1220.3L348.79 1221.55L350.58 1222.81L352.37 1224.06L354.17 1225.32L355.96 1226.58L357.75 1227.84L359.55 1229.11L361.34 1230.37L363.13 1231.64L364.93 1232.91L366.72 1234.18L368.51 1235.45L370.31 1236.73L372.1 1238L373.89 1239.28L375.69 1240.56L377.48 1241.84L379.27 1243.12L381.07 1244.4L382.86 1245.68L384.65 1246.97L386.45 1248.25L388.24 1249.54L390.03 1250.83L391.83 1252.12L393.62 1253.41L395.41 1254.7L397.21 1255.99L399 1257.28L400.79 1258.57L402.59 1259.86L404.38 1261.15L406.17 1262.45L407.97 1263.74L409.76 1265.03L411.55 1266.33L413.35 1267.62L415.14 1268.91L416.93 1270.21L418.73 1271.5L420.52 1272.79L422.31 1274.09L424.11 1275.38L425.9 1276.67L427.69 1277.96L429.49 1279.25L431.28 1280.54L433.08 1281.83L434.87 1283.12L436.66 1284.41L438.46 1285.69L440.25 1286.98L442.04 1288.27L443.84 1289.55L445.63 1290.83L447.42 1292.11L449.22 1293.39L451.01 1294.67L452.8 1295.95L454.6 1297.22L456.39 1298.49L458.18 1299.77L459.98 1301.04L461.77 1302.3L463.56 1303.57L465.36 1304.83L467.15 1306.1L468.94 1307.35L470.74 1308.61L472.53 1309.87L474.32 1311.12L476.12 1312.37L477.91 1313.62L479.7 1314.86L481.5 1316.1L483.29 1317.34L485.08 1318.58L486.88 1319.81L488.67 1321.04L490.46 1322.27L492.26 1323.5L494.05 1324.72L495.84 1325.94L497.64 1327.15L499.43 1328.36L501.22 1329.57L503.02 1330.77L504.81 1331.97L506.6 1333.17L508.4 1334.36L510.19 1335.55L511.98 1336.73L513.78 1337.92L515.57 1339.09L517.36 1340.26L519.16 1341.43L520.95 1342.6L522.74 1343.76L524.54 1344.91L526.33 1346.06L528.12 1347.21L529.92 1348.35L531.71 1349.48L533.5 1350.62L535.3 1351.74L537.09 1352.86L538.88 1353.98L540.68 1355.09L542.47 1356.2L544.26 1357.3L546.06 1358.4L547.85 1359.49L549.64 1360.57L551.44 1361.65L553.23 1362.73L555.02 1363.79L556.82 1364.86L558.61 1365.91L560.4 1366.97L562.2 1368.01L563.99 1369.05L565.78 1370.08L567.58 1371.11L569.37 1372.13L571.16 1373.15L572.96 1374.16L574.75 1375.16L576.54 1376.15L578.34 1377.14L580.13 1378.13L581.93 1379.1L583.72 1380.07L585.51 1381.04L587.31 1381.99L589.1 1382.94L590.89 1383.89L592.69 1384.82L594.48 1385.75L596.27 1386.67L598.07 1387.59L599.86 1388.5L601.65 1389.4L603.45 1390.29L605.24 1391.18L607.03 1392.06L608.83 1392.93L610.62 1393.79L612.41 1394.65L614.21 1395.5L616 1396.34L617.79 1397.18L619.59 1398L621.38 1398.82L623.17 1399.64L624.97 1400.44L626.76 1401.23L628.55 1402.02L630.35 1402.8L632.14 1403.57L633.93 1404.34L635.73 1405.1L637.52 1405.84L639.31 1406.58L641.11 1407.32L642.9 1408.04L644.69 1408.76L646.49 1409.46L648.28 1410.16L650.07 1410.85L651.87 1411.54L653.66 1412.21L655.45 1412.88L657.25 1413.53L659.04 1414.18L660.83 1414.82L662.63 1415.45L664.42 1416.08L666.21 1416.69L668.01 1417.3L669.8 1417.9L671.59 1418.49L673.39 1419.07L675.18 1419.64L676.97 1420.2L678.77 1420.76L680.56 1421.3L682.35 1421.84L684.15 1422.37L685.94 1422.89L687.73 1423.4L689.53 1423.9L691.32 1424.39L693.11 1424.88L694.91 1425.35L696.7 1425.82L698.49 1426.28L700.29 1426.72L702.08 1427.16L703.87 1427.6L705.67 1428.02L707.46 1428.43L709.25 1428.84L711.05 1429.23L712.84 1429.62L714.63 1429.99L716.43 1430.36L718.22 1430.72L720.02 1431.07L721.81 1431.42L723.6 1431.75L725.4 1432.07L727.19 1432.39L728.98 1432.69L730.78 1432.99L732.57 1433.28L734.36 1433.56L736.16 1433.83L737.95 1434.09L739.74 1434.34L741.54 1434.59L743.33 1434.82L745.12 1435.05L746.92 1435.27L748.71 1435.48L750.5 1435.68L752.3 1435.87L754.09 1436.05L755.88 1436.22L757.68 1436.39L759.47 1436.55L761.26 1436.69L763.06 1436.83L764.85 1436.96L766.64 1437.08L768.44 1437.2L770.23 1437.3L772.02 1437.4L773.82 1437.49L775.61 1437.57L777.4 1437.64L779.2 1437.7L780.99 1437.75L782.78 1437.8L784.58 1437.83L786.37 1437.86L788.16 1437.88L789.96 1437.9L791.75 1437.9" stroke="#ff2a00" stroke-width="2" stroke-linecap="butt"/>
<path clip-path="url(#cc)" d="M74.4 1437.9L76.19 1437.9L77.99 1437.88L79.78 1437.86L81.57 1437.84L83.37 1437.8L85.16 1437.75L86.95 1437.7L88.75 1437.64L90.54 1437.57L92.33 1437.5L94.13 1437.41L95.92 1437.32L97.71 1437.22L99.51 1437.12L101.3 1437L103.09 1436.88L104.89 1436.75L106.68 1436.62L108.47 1436.47L110.27 1436.32L112.06 1436.16L113.85 1436L115.65 1435.82L117.44 1435.64L119.23 1435.45L121.03 1435.26L122.82 1435.06L124.61 1434.85L126.41 1434.64L128.2 1434.41L129.99 1434.19L131.79 1433.95L133.58 1433.71L135.37 1433.46L137.17 1433.2L138.96 1432.94L140.75 1432.68L142.55 1432.4L144.34 1432.12L146.13 1431.83L147.93 1431.54L149.72 1431.24L151.52 1430.94L153.31 1430.63L155.1 1430.31L156.9 1429.99L158.69 1429.66L160.48 1429.33L162.28 1428.99L164.07 1428.64L165.86 1428.29L167.66 1427.94L169.45 1427.58L171.24 1427.21L173.04 1426.84L174.83 1426.46L176.62 1426.08L178.42 1425.7L180.21 1425.3L182 1424.91L183.8 1424.51L185.59 1424.1L187.38 1423.69L189.18 1423.28L190.97 1422.86L192.76 1422.44L194.56 1422.01L196.35 1421.58L198.14 1421.14L199.94 1420.7L201.73 1420.26L203.52 1419.81L205.32 1419.36L207.11 1418.91L208.9 1418.45L210.7 1417.99L212.49 1417.52L214.28 1417.05L216.08 1416.58L217.87 1416.1L219.66 1415.62L221.46 1415.14L223.25 1414.66L225.04 1414.17L226.84 1413.68L228.63 1413.19L230.42 1412.69L232.22 1412.19L234.01 1411.69L235.8 1411.19L237.6 1410.69L239.39 1410.18L241.18 1409.67L242.98 1409.16L244.77 1408.64L246.56 1408.13L248.36 1407.61L250.15 1407.09L251.94 1406.57L253.74 1406.05L255.53 1405.53L257.32 1405L259.12 1404.48L260.91 1403.95L262.7 1403.42L264.5 1402.89L266.29 1402.36L268.08 1401.83L269.88 1401.3L271.67 1400.77L273.46 1400.23L275.26 1399.7L277.05 1399.17L278.84 1398.63L280.64 1398.1L282.43 1397.56L284.22 1397.03L286.02 1396.49L287.81 1395.96L289.61 1395.43L291.4 1394.89L293.19 1394.36L294.99 1393.82L296.78 1393.29L298.57 1392.76L300.37 1392.23L302.16 1391.7L303.95 1391.17L305.75 1390.64L307.54 1390.11L309.33 1389.59L311.13 1389.06L312.92 1388.54L314.71 1388.02L316.51 1387.49L318.3 1386.98L320.09 1386.46L321.89 1385.94L323.68 1385.43L325.47 1384.92L327.27 1384.41L329.06 1383.9L330.85 1383.39L332.65 1382.89L334.44 1382.39L336.23 1381.89L338.03 1381.39L339.82 1380.9L341.61 1380.4L343.41 1379.92L345.2 1379.43L346.99 1378.95L348.79 1378.47L350.58 1377.99L352.37 1377.51L354.17 1377.04L355.96 1376.57L357.75 1376.11L359.55 1375.65L361.34 1375.19L363.13 1374.74L364.93 1374.29L366.72 1373.84L368.51 1373.4L370.31 1372.96L372.1 1372.52L373.89 1372.09L375.69 1371.66L377.48 1371.24L379.27 1370.82L381.07 1370.41L382.86 1370L384.65 1369.59L386.45 1369.19L388.24 1368.79L390.03 1368.4L391.83 1368.01L393.62 1367.63L395.41 1367.25L397.21 1366.88L399 1366.51L400.79 1366.14L402.59 1365.79L404.38 1365.43L406.17 1365.08L407.97 1364.74L409.76 1364.4L411.55 1364.07L413.35 1363.74L415.14 1363.42L416.93 1363.1L418.73 1362.79L420.52 1362.49L422.31 1362.19L424.11 1361.9L425.9 1361.61L427.69 1361.33L429.49 1361.05L431.28 1360.78L433.08 1360.52L434.87 1360.26L436.66 1360L438.46 1359.76L440.25 1359.52L442.04 1359.29L443.84 1359.06L445.63 1358.84L447.42 1358.62L449.22 1358.41L451.01 1358.21L452.8 1358.02L454.6 1357.83L456.39 1357.65L458.18 1357.47L459.98 1357.3L461.77 1357.14L463.56 1356.98L465.36 1356.83L467.15 1356.69L468.94 1356.56L470.74 1356.43L472.53 1356.31L474.32 1356.19L476.12 1356.08L477.91 1355.98L479.7 1355.89L481.5 1355.8L483.29 1355.72L485.08 1355.65L486.88 1355.58L488.67 1355.53L490.46 1355.47L492.26 1355.43L494.05 1355.39L495.84 1355.36L497.64 1355.34L499.43 1355.33L501.22 1355.32L503.02 1355.32L504.81 1355.33L506.6 1355.34L508.4 1355.36L510.19 1355.39L511.98 1355.43L513.78 1355.47L515.57 1355.52L517.36 1355.58L519.16 1355.64L520.95 1355.72L522.74 1355.8L524.54 1355.89L526.33 1355.98L528.12 1356.09L529.92 1356.2L531.71 1356.31L533.5 1356.44L535.3 1356.57L537.09 1356.71L538.88 1356.86L540.68 1357.02L542.47 1357.18L544.26 1357.35L546.06 1357.53L547.85 1357.71L549.64 1357.9L551.44 1358.1L553.23 1358.31L555.02 1358.52L556.82 1358.75L558.61 1358.98L560.4 1359.21L562.2 1359.46L563.99 1359.71L565.78 1359.97L567.58 1360.23L569.37 1360.51L571.16 1360.79L572.96 1361.08L574.75 1361.37L576.54 1361.68L578.34 1361.99L580.13 1362.3L581.93 1362.63L583.72 1362.96L585.51 1363.3L587.31 1363.64L589.1 1364L590.89 1364.36L592.69 1364.72L594.48 1365.1L596.27 1365.48L598.07 1365.87L599.86 1366.26L601.65 1366.66L603.45 1367.07L605.24 1367.49L607.03 1367.91L608.83 1368.34L610.62 1368.77L612.41 1369.21L614.21 1369.66L616 1370.12L617.79 1370.58L619.59 1371.05L621.38 1371.52L623.17 1372.01L624.97 1372.49L626.76 1372.99L628.55 1373.49L630.35 1373.99L632.14 1374.51L633.93 1375.03L635.73 1375.55L637.52 1376.08L639.31 1376.62L641.11 1377.16L642.9 1377.71L644.69 1378.27L646.49 1378.83L648.28 1379.4L650.07 1379.97L651.87 1380.55L653.66 1381.13L655.45 1381.72L657.25 1382.32L659.04 1382.92L660.83 1383.52L662.63 1384.14L664.42 1384.75L666.21 1385.37L668.01 1386L669.8 1386.63L671.59 1387.27L673.39 1387.91L675.18 1388.56L676.97 1389.21L678.77 1389.87L680.56 1390.53L682.35 1391.2L684.15 1391.87L685.94 1392.54L687.73 1393.22L689.53 1393.91L691.32 1394.6L693.11 1395.29L694.91 1395.99L696.7 1396.69L698.49 1397.39L700.29 1398.1L702.08 1398.82L703.87 1399.53L705.67 1400.26L707.46 1400.98L709.25 1401.71L711.05 1402.44L712.84 1403.18L714.63 1403.92L716.43 1404.66L718.22 1405.41L720.02 1406.15L721.81 1406.91L723.6 1407.66L725.4 1408.42L727.19 1409.18L728.98 1409.95L730.78 1410.71L732.57 1411.48L734.36 1412.26L736.16 1413.03L737.95 1413.81L739.74 1414.59L741.54 1415.37L743.33 1416.16L745.12 1416.94L746.92 1417.73L748.71 1418.52L750.5 1419.31L752.3 1420.11L754.09 1420.91L755.88 1421.7L757.68 1422.5L759.47 1423.3L761.26 1424.11L763.06 1424.91L764.85 1425.72L766.64 1426.52L768.44 1427.33L770.23 1428.14L772.02 1428.95L773.82 1429.76L775.61 1430.57L777.4 1431.39L779.2 1432.2L780.99 1433.01L782.78 1433.83L784.58 1434.64L786.37 1435.45L788.16 1436.27L789.96 1437.08L791.75 1437.9" stroke="#1c00e2" stroke-width="2" stroke-linecap="butt"/>
<path d="M72.5 1003.09L69.18 1004.2L66.97 1007.51L65.87 1013.04L65.87 1016.35L66.97 1021.88L69.18 1025.19L72.5 1026.3L74.71 1026.3L78.02 1025.19L80.23 1021.88L81.34 1016.35L81.34 1013.04L80.23 1007.51L78.02 1004.2L74.71 1003.09L72.5 1003.09M72.5 1003.09L70.29 1004.2L69.18 1005.3L68.08 1007.51L66.97 1013.04L66.97 1016.35L68.08 1021.88L69.18 1024.09L70.29 1025.19L72.5 1026.3M74.71 1026.3L76.92 1025.19L78.02 1024.09L79.13 1021.88L80.23 1016.35L80.23 1013.04L79.13 1007.51L78.02 1005.3L76.92 1004.2L74.71 1003.09" stroke="#000" stroke-width="2.2"/>
<path d="M227.35 1011.93L222.93 1026.3M227.35 1011.93L224.04 1026.3M233.98 1011.93L233.98 1026.3M233.98 1011.93L235.09 1026.3M219.62 1014.14L221.83 1011.93L225.14 1010.83L239.51 1010.83M219.62 1014.14L221.83 1013.04L225.14 1011.93L239.51 1011.93M263.82 998.67L243.93 1034.03M274.21 1003.09L270.89 1004.2L269.79 1006.41L269.79 1009.72L270.89 1011.93L274.21 1013.04L278.63 1013.04L281.94 1011.93L283.05 1009.72L283.05 1006.41L281.94 1004.2L278.63 1003.09L274.21 1003.09M274.21 1003.09L272 1004.2L270.89 1006.41L270.89 1009.72L272 1011.93L274.21 1013.04M278.63 1013.04L280.84 1011.93L281.94 1009.72L281.94 1006.41L280.84 1004.2L278.63 1003.09M274.21 1013.04L270.89 1014.14L269.79 1015.25L268.68 1017.46L268.68 1021.88L269.79 1024.09L270.89 1025.19L274.21 1026.3L278.63 1026.3L281.94 1025.19L283.05 1024.09L284.15 1021.88L284.15 1017.46L283.05 1015.25L281.94 1014.14L278.63 1013.04M274.21 1013.04L272 1014.14L270.89 1015.25L269.79 1017.46L269.79 1021.88L270.89 1024.09L272 1025.19L274.21 1026.3M278.63 1026.3L280.84 1025.19L281.94 1024.09L283.05 1021.88L283.05 1017.46L281.94 1015.25L280.84 1014.14L278.63 1013.04" stroke="#000" stroke-width="2.2"/>
<path d="M406.69 1011.93L402.27 1026.3M406.69 1011.93L403.38 1026.3M413.32 1011.93L413.32 1026.3M413.32 1011.93L414.43 1026.3M398.96 1014.14L401.17 1011.93L404.48 1010.83L418.85 1010.83M398.96 1014.14L401.17 1013.04L404.48 1011.93L418.85 1011.93M443.16 998.67L423.27 1034.03M457.96 1005.3L457.96 1026.3M459.07 1003.09L459.07 1026.3M459.07 1003.09L446.91 1019.67L464.59 1019.67M454.65 1026.3L462.38 1026.3" stroke="#000" stroke-width="2.2"/>
<path d="M569.45 1007.51L570.56 1008.62L569.45 1009.72L568.35 1008.62L568.35 1007.51L569.45 1005.3L570.56 1004.2L573.87 1003.09L578.29 1003.09L581.61 1004.2L582.71 1006.41L582.71 1009.72L581.61 1011.93L578.29 1013.04L574.98 1013.04M578.29 1003.09L580.5 1004.2L581.61 1006.41L581.61 1009.72L580.5 1011.93L578.29 1013.04M578.29 1013.04L580.5 1014.14L582.71 1016.35L583.82 1018.56L583.82 1021.88L582.71 1024.09L581.61 1025.19L578.29 1026.3L573.87 1026.3L570.56 1025.19L569.45 1024.09L568.35 1021.88L568.35 1020.77L569.45 1019.67L570.56 1020.77L569.45 1021.88M581.61 1015.25L582.71 1018.56L582.71 1021.88L581.61 1024.09L580.5 1025.19L578.29 1026.3M597.08 1011.93L592.66 1026.3M597.08 1011.93L593.76 1026.3M603.71 1011.93L603.71 1026.3M603.71 1011.93L604.81 1026.3M589.34 1014.14L591.55 1011.93L594.87 1010.83L609.23 1010.83M589.34 1014.14L591.55 1013.04L594.87 1011.93L609.23 1011.93M633.54 998.67L613.65 1034.03M643.93 1003.09L640.62 1004.2L639.51 1006.41L639.51 1009.72L640.62 1011.93L643.93 1013.04L648.35 1013.04L651.67 1011.93L652.77 1009.72L652.77 1006.41L651.67 1004.2L648.35 1003.09L643.93 1003.09M643.93 1003.09L641.72 1004.2L640.62 1006.41L640.62 1009.72L641.72 1011.93L643.93 1013.04M648.35 1013.04L650.56 1011.93L651.67 1009.72L651.67 1006.41L650.56 1004.2L648.35 1003.09M643.93 1013.04L640.62 1014.14L639.51 1015.25L638.41 1017.46L638.41 1021.88L639.51 1024.09L640.62 1025.19L643.93 1026.3L648.35 1026.3L651.67 1025.19L652.77 1024.09L653.88 1021.88L653.88 1017.46L652.77 1015.25L651.67 1014.14L648.35 1013.04M643.93 1013.04L641.72 1014.14L640.62 1015.25L639.51 1017.46L639.51 1021.88L640.62 1024.09L641.72 1025.19L643.93 1026.3M648.35 1026.3L650.56 1025.19L651.67 1024.09L652.77 1021.88L652.77 1017.46L651.67 1015.25L650.56 1014.14L648.35 1013.04" stroke="#000" stroke-width="2.2"/>
<path d="M766.18 1011.93L761.76 1026.3M766.18 1011.93L762.87 1026.3M772.81 1011.93L772.81 1026.3M772.81 1011.93L773.92 1026.3M758.45 1014.14L760.66 1011.93L763.97 1010.83L778.34 1010.83M758.45 1014.14L760.66 1013.04L763.97 1011.93L778.34 1011.93M802.65 998.67L782.76 1034.03M808.84 1007.51L809.94 1008.62L808.84 1009.72L807.73 1008.62L807.73 1007.51L808.84 1005.3L809.94 1004.2L813.25 1003.09L817.68 1003.09L820.99 1004.2L822.1 1005.3L823.2 1007.51L823.2 1009.72L822.1 1011.93L818.78 1014.14L813.25 1016.35L811.05 1017.46L808.84 1019.67L807.73 1022.98L807.73 1026.3M817.68 1003.09L819.88 1004.2L820.99 1005.3L822.1 1007.51L822.1 1009.72L820.99 1011.93L817.68 1014.14L813.25 1016.35M807.73 1024.09L808.84 1022.98L811.05 1022.98L816.57 1025.19L819.88 1025.19L822.1 1024.09L823.2 1022.98M811.05 1022.98L816.57 1026.3L820.99 1026.3L822.1 1025.19L823.2 1022.98L823.2 1020.77" stroke="#000" stroke-width="2.2"/>
<path d="M204.67 1085.8L199.14 1104.58L198.04 1106.79L196.94 1107.89L194.72 1109L192.51 1109L190.31 1107.89L189.2 1105.68L189.2 1103.47L190.31 1102.37L191.41 1103.47L190.31 1104.58M203.56 1085.8L198.04 1104.58L196.94 1106.79L194.72 1109M200.25 1085.8L207.98 1085.8M223.12 1085.8L216.49 1109M224.23 1085.8L217.6 1109M219.81 1085.8L231.96 1085.8L235.28 1086.9L236.38 1089.11L236.38 1091.32L235.28 1094.63L234.17 1095.74L230.86 1096.85M231.96 1085.8L234.17 1086.9L235.28 1089.11L235.28 1091.32L234.17 1094.63L233.07 1095.74L230.86 1096.85M220.91 1096.85L230.86 1096.85L233.07 1097.95L234.17 1100.16L234.17 1102.37L233.07 1105.68L230.86 1107.89L226.44 1109L213.18 1109M230.86 1096.85L231.96 1097.95L233.07 1100.16L233.07 1102.37L231.96 1105.68L229.75 1107.89L226.44 1109M260.25 1081.38L240.36 1116.73M286.88 1081.04L285.78 1082.15L286.88 1083.25L287.99 1082.15L287.99 1081.04L286.88 1079.94L284.67 1079.94L282.46 1081.04L280.25 1083.25L279.15 1085.46L278.04 1088.78L276.94 1093.2L274.73 1106.46L273.62 1110.88L272.52 1113.09M281.36 1082.15L280.25 1084.36L279.15 1088.78L276.94 1102.04L275.83 1106.46L274.73 1109.77L273.62 1111.98L271.41 1114.19L269.2 1115.3L266.99 1115.3L265.89 1114.19L265.89 1113.09L266.99 1111.98L268.1 1113.09L266.99 1114.19M306.77 1085.8L301.25 1104.58L300.14 1106.79L299.04 1107.89L296.83 1109L294.62 1109L292.41 1107.89L291.3 1105.68L291.3 1103.47L292.41 1102.37L293.51 1103.47L292.41 1104.58M305.67 1085.8L300.14 1104.58L299.04 1106.79L296.83 1109M302.35 1085.8L310.09 1085.8M312.83 1081.22L313.51 1081.91L312.83 1082.59L312.14 1081.91L312.14 1081.22L312.83 1079.85L313.51 1079.16L315.57 1078.48L318.31 1078.48L320.36 1079.16L321.05 1079.85L321.73 1081.22L321.73 1082.59L321.05 1083.96L318.99 1085.33L315.57 1086.7L314.2 1087.39L312.83 1088.76L312.14 1090.81L312.14 1092.87M318.31 1078.48L319.68 1079.16L320.36 1079.85L321.05 1081.22L321.05 1082.59L320.36 1083.96L318.31 1085.33L315.57 1086.7M312.14 1091.5L312.83 1090.81L314.2 1090.81L317.62 1092.18L319.68 1092.18L321.05 1091.5L321.73 1090.81M314.2 1090.81L317.62 1092.87L320.36 1092.87L321.05 1092.18L321.73 1090.81L321.73 1089.44M338.6 1085.8L338.6 1109M339.7 1085.8L339.7 1109M338.6 1096.85L336.39 1094.63L334.18 1093.53L331.97 1093.53L328.65 1094.63L326.44 1096.85L325.34 1100.16L325.34 1102.37L326.44 1105.68L328.65 1107.89L331.97 1109L334.18 1109L336.39 1107.89L338.6 1105.68M331.97 1093.53L329.76 1094.63L327.55 1096.85L326.44 1100.16L326.44 1102.37L327.55 1105.68L329.76 1107.89L331.97 1109M335.28 1085.8L339.7 1085.8M338.6 1109L343.02 1109M365.78 1093.53L364.67 1095.74L362.46 1097.95L353.62 1104.58L351.41 1106.79L350.31 1109M351.41 1097.95L352.52 1095.74L354.73 1093.53L358.04 1093.53L362.46 1095.74M352.52 1095.74L354.73 1094.63L358.04 1094.63L362.46 1095.74L364.67 1095.74M351.41 1106.79L353.62 1106.79L358.04 1107.89L361.36 1107.89L363.57 1106.79M353.62 1106.79L358.04 1109L361.36 1109L363.57 1106.79L364.67 1104.58" stroke="#ff2a00" stroke-width="1.75"/><circle cx="210.19" cy="1098.28" r="3.31" fill="#ff2a00" stroke="none"/>
<path d="M453.68 1105.89L439.31 1129.1M453.68 1105.89L454.78 1129.1M452.57 1108.11L453.68 1129.1M443.73 1122.47L453.68 1122.47M437.1 1129.1L443.73 1129.1M450.36 1129.1L456.99 1129.1M476.55 1105.89L469.92 1129.1M477.65 1105.89L471.02 1129.1M473.23 1105.89L485.39 1105.89L488.7 1107L489.81 1109.21L489.81 1111.42L488.7 1114.73L487.6 1115.84L484.28 1116.94M485.39 1105.89L487.6 1107L488.7 1109.21L488.7 1111.42L487.6 1114.73L486.49 1115.84L484.28 1116.94M474.34 1116.94L484.28 1116.94L486.49 1118.05L487.6 1120.26L487.6 1122.47L486.49 1125.78L484.28 1127.99L479.86 1129.1L466.6 1129.1M484.28 1116.94L485.39 1118.05L486.49 1120.26L486.49 1122.47L485.39 1125.78L483.18 1127.99L479.86 1129.1M513.68 1101.47L493.79 1136.83M540.31 1101.14L539.2 1102.25L540.31 1103.35L541.41 1102.25L541.41 1101.14L540.31 1100.04L538.1 1100.04L535.89 1101.14L533.68 1103.35L532.57 1105.56L531.47 1108.88L530.36 1113.3L528.15 1126.56L527.05 1130.98L525.94 1133.19M534.78 1102.25L533.68 1104.46L532.57 1108.88L530.36 1122.14L529.26 1126.56L528.15 1129.87L527.05 1132.08L524.84 1134.29L522.63 1135.4L520.42 1135.4L519.31 1134.29L519.31 1133.19L520.42 1132.08L521.52 1133.19L520.42 1134.29M554.45 1105.89L547.82 1129.1M555.56 1105.89L548.93 1129.1M551.14 1105.89L563.29 1105.89L566.61 1107L567.71 1109.21L567.71 1111.42L566.61 1114.73L565.5 1115.84L562.19 1116.94M563.29 1105.89L565.5 1107L566.61 1109.21L566.61 1111.42L565.5 1114.73L564.4 1115.84L562.19 1116.94M552.24 1116.94L562.19 1116.94L564.4 1118.05L565.5 1120.26L565.5 1122.47L564.4 1125.78L562.19 1127.99L557.77 1129.1L544.51 1129.1M562.19 1116.94L563.29 1118.05L564.4 1120.26L564.4 1122.47L563.29 1125.78L561.08 1127.99L557.77 1129.1M573.21 1101.32L573.9 1102.01L573.21 1102.69L572.53 1102.01L572.53 1101.32L573.21 1099.95L573.9 1099.26L575.95 1098.58L578.69 1098.58L580.75 1099.26L581.44 1099.95L582.12 1101.32L582.12 1102.69L581.44 1104.06L579.38 1105.43L575.95 1106.8L574.58 1107.49L573.21 1108.86L572.53 1110.91L572.53 1112.97M578.69 1098.58L580.06 1099.26L580.75 1099.95L581.44 1101.32L581.44 1102.69L580.75 1104.06L578.69 1105.43L575.95 1106.8M572.53 1111.6L573.21 1110.91L574.58 1110.91L578.01 1112.28L580.06 1112.28L581.44 1111.6L582.12 1110.91M574.58 1110.91L578.01 1112.97L580.75 1112.97L581.44 1112.28L582.12 1110.91L582.12 1109.54M598.98 1105.89L598.98 1129.1M600.09 1105.89L600.09 1129.1M598.98 1116.94L596.77 1114.73L594.56 1113.63L592.35 1113.63L589.04 1114.73L586.83 1116.94L585.72 1120.26L585.72 1122.47L586.83 1125.78L589.04 1127.99L592.35 1129.1L594.56 1129.1L596.77 1127.99L598.98 1125.78M592.35 1113.63L590.14 1114.73L587.93 1116.94L586.83 1120.26L586.83 1122.47L587.93 1125.78L590.14 1127.99L592.35 1129.1M595.67 1105.89L600.09 1105.89M598.98 1129.1L603.4 1129.1M626.17 1113.63L625.06 1115.84L622.85 1118.05L614.01 1124.68L611.8 1126.89L610.7 1129.1M611.8 1118.05L612.91 1115.84L615.12 1113.63L618.43 1113.63L622.85 1115.84M612.91 1115.84L615.12 1114.73L618.43 1114.73L622.85 1115.84L625.06 1115.84M611.8 1126.89L614.01 1126.89L618.43 1127.99L621.75 1127.99L623.96 1126.89M614.01 1126.89L618.43 1129.1L621.75 1129.1L623.96 1126.89L625.06 1124.68" stroke="#000" stroke-width="1.75"/><circle cx="463.62" cy="1118.38" r="3.31" fill="#000" stroke="none"/>
<path d="M364.57 1389L359.05 1407.78L357.94 1409.99L356.83 1411.1L354.62 1412.2L352.42 1412.2L350.2 1411.1L349.1 1408.88L349.1 1406.67L350.2 1405.57L351.31 1406.67L350.2 1407.78M363.46 1389L357.94 1407.78L356.83 1409.99L354.62 1412.2M360.15 1389L367.88 1389M373.3 1394.52L388.77 1409.99M388.77 1394.52L373.3 1409.99M402.8 1389L396.17 1412.2M403.91 1389L397.28 1412.2M399.49 1389L411.64 1389L414.96 1390.1L416.06 1392.31L416.06 1394.52L414.96 1397.84L413.85 1398.94L410.54 1400.05M411.64 1389L413.85 1390.1L414.96 1392.31L414.96 1394.52L413.85 1397.84L412.75 1398.94L410.54 1400.05M400.59 1400.05L410.54 1400.05L412.75 1401.15L413.85 1403.36L413.85 1405.57L412.75 1408.88L410.54 1411.1L406.12 1412.2L392.86 1412.2M410.54 1400.05L411.64 1401.15L412.75 1403.36L412.75 1405.57L411.64 1408.88L409.43 1411.1L406.12 1412.2M439.93 1384.58L420.04 1419.93M466.56 1384.24L465.46 1385.35L466.56 1386.45L467.67 1385.35L467.67 1384.24L466.56 1383.14L464.35 1383.14L462.14 1384.24L459.93 1386.45L458.83 1388.66L457.72 1391.98L456.62 1396.4L454.41 1409.66L453.3 1414.08L452.2 1416.29M461.04 1385.35L459.93 1387.56L458.83 1391.98L456.62 1405.24L455.51 1409.66L454.41 1412.97L453.3 1415.18L451.09 1417.39L448.88 1418.5L446.67 1418.5L445.57 1417.39L445.57 1416.29L446.67 1415.18L447.78 1416.29L446.67 1417.39M486.45 1389L480.93 1407.78L479.82 1409.99L478.72 1411.1L476.51 1412.2L474.3 1412.2L472.09 1411.1L470.98 1408.88L470.98 1406.67L472.09 1405.57L473.19 1406.67L472.09 1407.78M485.35 1389L479.82 1407.78L478.72 1409.99L476.51 1412.2M482.03 1389L489.77 1389M492.51 1384.42L493.19 1385.11L492.51 1385.79L491.82 1385.11L491.82 1384.42L492.51 1383.05L493.19 1382.37L495.25 1381.68L497.99 1381.68L500.04 1382.37L500.73 1383.05L501.41 1384.42L501.41 1385.79L500.73 1387.16L498.67 1388.53L495.25 1389.9L493.88 1390.59L492.51 1391.96L491.82 1394.01L491.82 1396.07M497.99 1381.68L499.36 1382.37L500.04 1383.05L500.73 1384.42L500.73 1385.79L500.04 1387.16L497.99 1388.53L495.25 1389.9M491.82 1394.7L492.51 1394.01L493.88 1394.01L497.3 1395.38L499.36 1395.38L500.73 1394.7L501.41 1394.01M493.88 1394.01L497.3 1396.07L500.04 1396.07L500.73 1395.38L501.41 1394.01L501.41 1392.64M518.28 1389L518.28 1412.2M519.38 1389L519.38 1412.2M518.28 1400.05L516.07 1397.84L513.86 1396.73L511.65 1396.73L508.33 1397.84L506.12 1400.05L505.02 1403.36L505.02 1405.57L506.12 1408.88L508.33 1411.1L511.65 1412.2L513.86 1412.2L516.07 1411.1L518.28 1408.88M511.65 1396.73L509.44 1397.84L507.23 1400.05L506.12 1403.36L506.12 1405.57L507.23 1408.88L509.44 1411.1L511.65 1412.2M514.96 1389L519.38 1389M518.28 1412.2L522.7 1412.2M545.46 1396.73L544.35 1398.94L542.14 1401.15L533.3 1407.78L531.09 1409.99L529.99 1412.2M531.09 1401.15L532.2 1398.94L534.41 1396.73L537.72 1396.73L542.14 1398.94M532.2 1398.94L534.41 1397.84L537.72 1397.84L542.14 1398.94L544.35 1398.94M531.09 1409.99L533.3 1409.99L537.72 1411.1L541.04 1411.1L543.25 1409.99M533.3 1409.99L537.72 1412.2L541.04 1412.2L543.25 1409.99L544.35 1407.78" stroke="#1c00e2" stroke-width="1.75"/>
<path d="M726.29 1058.15L723.75 1060.69L721.21 1064.5L718.67 1069.58L717.4 1075.93L717.4 1081.01L718.67 1087.36L721.21 1092.44L723.75 1096.25L726.29 1098.79M723.75 1060.69L721.21 1065.77L719.94 1069.58L718.67 1075.93L718.67 1081.01L719.94 1087.36L721.21 1091.17L723.75 1096.25M749.15 1075.93L747.88 1077.2L749.15 1078.47L750.42 1077.2L750.42 1075.93L747.88 1073.39L745.34 1072.12L741.53 1072.12L737.72 1073.39L735.18 1075.93L733.91 1079.74L733.91 1082.28L735.18 1086.09L737.72 1088.63L741.53 1089.9L744.07 1089.9L747.88 1088.63L750.42 1086.09M741.53 1072.12L738.99 1073.39L736.45 1075.93L735.18 1079.74L735.18 1082.28L736.45 1086.09L738.99 1088.63L741.53 1089.9M758.04 1058.15L760.58 1060.69L763.12 1064.5L765.66 1069.58L766.93 1075.93L766.93 1081.01L765.66 1087.36L763.12 1092.44L760.58 1096.25L758.04 1098.79M760.58 1060.69L763.12 1065.77L764.39 1069.58L765.66 1075.93L765.66 1081.01L764.39 1087.36L763.12 1091.17L760.58 1096.25" stroke="#000" stroke-width="1.8"/>
<path d="M440.74 1516.03L439.63 1518.24L437.42 1520.45L428.58 1527.08L426.37 1529.29L425.26 1531.5M426.37 1520.45L427.48 1518.24L429.69 1516.03L433 1516.03L437.42 1518.24M427.48 1518.24L429.69 1517.13L433 1517.13L437.42 1518.24L439.63 1518.24M426.37 1529.29L428.58 1529.29L433 1530.39L436.31 1530.39L438.52 1529.29M428.58 1529.29L433 1531.5L436.31 1531.5L438.52 1529.29L439.63 1527.08" stroke="#000" stroke-width="2.2"/>
</svg></body></html>
